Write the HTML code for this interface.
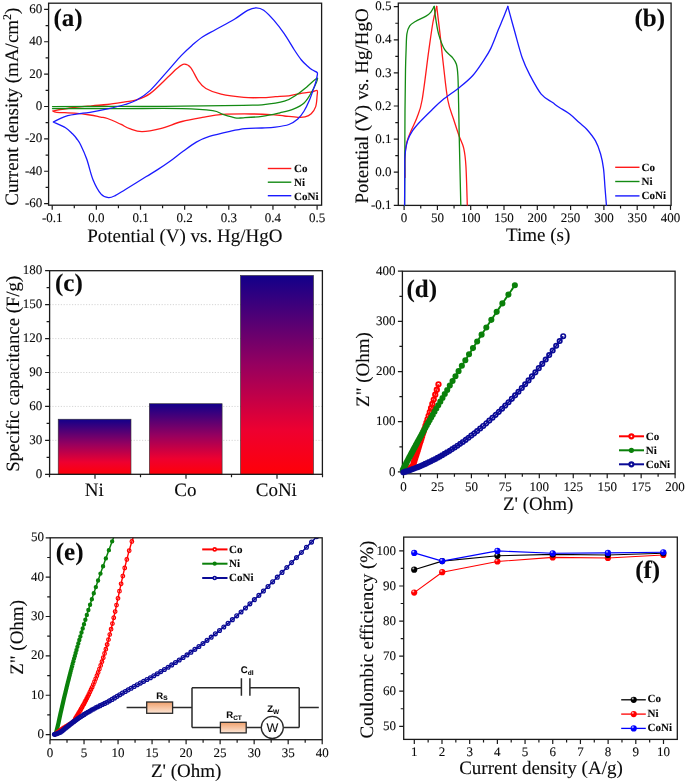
<!DOCTYPE html>
<html><head><meta charset="utf-8"><style>
html,body{margin:0;padding:0;background:#fff;}
svg{display:block;will-change:transform;}
text{font-family:"Liberation Serif", serif;fill:#0a0a0a;stroke:#0a0a0a;stroke-width:0.1px;text-rendering:geometricPrecision;}
</style></head><body>
<svg width="685" height="782" viewBox="0 0 685 782">
<rect width="685" height="782" fill="#fff"/>
<rect x="48.6" y="3.2" width="273.00" height="202.00" fill="none" stroke="#1a1a1a" stroke-width="1.3"/>
<path d="M52.20 205.20V209.70M96.35 205.20V209.70M140.50 205.20V209.70M184.65 205.20V209.70M228.80 205.20V209.70M272.95 205.20V209.70M317.10 205.20V209.70M74.28 205.20V208.20M118.43 205.20V208.20M162.58 205.20V208.20M206.73 205.20V208.20M250.88 205.20V208.20M295.03 205.20V208.20" stroke="#1a1a1a" stroke-width="1.2" fill="none"/>
<text x="52.20" y="221.5" font-size="13" text-anchor="middle">-0.1</text>
<text x="96.35" y="221.5" font-size="13" text-anchor="middle">0.0</text>
<text x="140.50" y="221.5" font-size="13" text-anchor="middle">0.1</text>
<text x="184.65" y="221.5" font-size="13" text-anchor="middle">0.2</text>
<text x="228.80" y="221.5" font-size="13" text-anchor="middle">0.3</text>
<text x="272.95" y="221.5" font-size="13" text-anchor="middle">0.4</text>
<text x="317.10" y="221.5" font-size="13" text-anchor="middle">0.5</text>
<path d="M48.60 203.60H44.10M48.60 171.23H44.10M48.60 138.87H44.10M48.60 106.50H44.10M48.60 74.13H44.10M48.60 41.77H44.10M48.60 9.40H44.10M48.60 187.42H45.60M48.60 155.05H45.60M48.60 122.68H45.60M48.60 90.32H45.60M48.60 57.95H45.60M48.60 25.58H45.60" stroke="#1a1a1a" stroke-width="1.2" fill="none"/>
<text x="42.3" y="207.20" font-size="13" text-anchor="end">-60</text>
<text x="42.3" y="174.83" font-size="13" text-anchor="end">-40</text>
<text x="42.3" y="142.47" font-size="13" text-anchor="end">-20</text>
<text x="42.3" y="110.10" font-size="13" text-anchor="end">0</text>
<text x="42.3" y="77.73" font-size="13" text-anchor="end">20</text>
<text x="42.3" y="45.37" font-size="13" text-anchor="end">40</text>
<text x="42.3" y="13.00" font-size="13" text-anchor="end">60</text>
<text x="87.2" y="242.3" font-size="19">Potential (V) vs. Hg/HgO</text>
<text transform="translate(18.3,106.6) rotate(-90)" font-size="19" text-anchor="middle">Current density (mA/cm<tspan dy="-7" font-size="12">2</tspan><tspan dy="7">)</tspan></text>
<text x="53.5" y="25.5" font-size="25" font-weight="bold">(a)</text>
<path d="M52.80 111.00C55.65 110.50 63.40 108.87 69.90 108.00C76.40 107.13 85.53 106.38 91.80 105.80C98.07 105.22 101.97 105.15 107.50 104.50C113.03 103.85 120.33 102.63 125.00 101.90C129.67 101.17 131.33 101.48 135.50 100.10C139.67 98.72 144.58 97.43 150.00 93.60C155.42 89.77 163.50 81.28 168.00 77.10C172.50 72.92 174.32 70.65 177.00 68.50C179.68 66.35 181.82 64.35 184.10 64.20C186.38 64.05 188.33 64.82 190.70 67.60C193.07 70.38 195.77 77.42 198.30 80.90C200.83 84.38 202.10 86.28 205.90 88.50C209.70 90.72 214.77 92.72 221.10 94.20C227.43 95.68 237.08 96.83 243.90 97.40C250.72 97.97 256.75 97.72 262.00 97.60C267.25 97.48 270.92 97.00 275.40 96.70C279.88 96.40 284.42 96.40 288.90 95.80C293.38 95.20 298.43 93.77 302.30 93.10C306.17 92.43 309.63 92.25 312.10 91.80C314.57 91.35 316.27 89.73 317.10 90.40C317.93 91.07 317.33 93.10 317.10 95.80C316.87 98.50 316.68 103.62 315.70 106.60C314.72 109.58 312.98 111.98 311.20 113.70C309.42 115.42 307.23 116.30 305.00 116.90C302.77 117.50 301.23 117.45 297.80 117.30C294.37 117.15 288.87 116.45 284.40 116.00C279.93 115.55 276.15 114.93 271.00 114.60C265.85 114.27 261.52 114.03 253.50 114.00C245.48 113.97 231.42 113.83 222.90 114.40C214.38 114.97 209.22 116.22 202.40 117.40C195.58 118.58 189.00 119.62 182.00 121.50C175.00 123.38 167.07 127.00 160.40 128.70C153.73 130.40 147.12 131.70 142.00 131.70C136.88 131.70 133.27 129.95 129.70 128.70C126.13 127.45 124.30 125.90 120.60 124.20C116.90 122.50 110.85 119.68 107.50 118.50C104.15 117.32 103.42 117.68 100.50 117.10C97.58 116.52 94.37 115.65 90.00 115.00C85.63 114.35 79.83 113.65 74.30 113.20C68.77 112.75 60.38 112.67 56.80 112.30C53.22 111.93 53.47 111.22 52.80 111.00" fill="none" stroke="#ff1a1a" stroke-width="1.3" stroke-linejoin="round" stroke-linecap="round" />
<path d="M52.50 106.60C63.75 106.57 98.42 106.47 120.00 106.40C141.58 106.33 161.45 106.38 182.00 106.20C202.55 106.02 229.97 105.53 243.30 105.30C256.63 105.07 255.15 105.48 262.00 104.80C268.85 104.12 278.43 103.00 284.40 101.20C290.37 99.40 294.07 96.38 297.80 94.00C301.53 91.62 303.52 89.53 306.80 86.90C310.08 84.27 316.62 77.47 317.50 78.20C318.38 78.93 314.33 87.17 312.10 91.30C309.87 95.43 307.23 100.02 304.10 103.00C300.97 105.98 297.33 107.57 293.30 109.20C289.27 110.83 285.12 111.60 279.90 112.80C274.68 114.00 268.10 115.57 262.00 116.40C255.90 117.23 247.78 117.57 243.30 117.80C238.82 118.03 238.50 118.37 235.10 117.80C231.70 117.23 226.63 115.58 222.90 114.40C219.17 113.22 219.52 111.67 212.70 110.70C205.88 109.73 197.45 108.95 182.00 108.60C166.55 108.25 141.58 108.60 120.00 108.60C98.42 108.60 63.75 108.60 52.50 108.60" fill="none" stroke="#138a13" stroke-width="1.3" stroke-linejoin="round" stroke-linecap="round" />
<path d="M53.30 122.00C55.33 121.05 60.55 117.77 65.50 116.30C70.45 114.83 78.92 113.85 83.00 113.20C87.08 112.55 85.92 113.12 90.00 112.40C94.08 111.68 101.67 110.22 107.50 108.90C113.33 107.58 120.18 105.93 125.00 104.50C129.82 103.07 132.23 102.62 136.40 100.30C140.57 97.98 144.73 95.55 150.00 90.60C155.27 85.65 162.80 76.43 168.00 70.60C173.20 64.77 177.17 59.83 181.20 55.60C185.23 51.37 188.67 48.30 192.20 45.20C195.73 42.10 198.53 39.58 202.40 37.00C206.27 34.42 210.07 32.67 215.40 29.70C220.73 26.73 229.03 22.43 234.40 19.20C239.77 15.97 243.97 12.20 247.60 10.30C251.23 8.40 253.52 7.82 256.20 7.80C258.88 7.78 260.73 8.10 263.70 10.20C266.67 12.30 270.58 16.48 274.00 20.40C277.42 24.32 280.80 28.77 284.20 33.70C287.60 38.63 291.53 45.62 294.40 50.00C297.27 54.38 299.33 57.43 301.40 60.00C303.47 62.57 305.02 63.77 306.80 65.40C308.58 67.03 310.38 68.62 312.10 69.80C313.82 70.98 316.27 71.45 317.10 72.50C317.93 73.55 317.33 74.45 317.10 76.10C316.87 77.75 316.38 80.02 315.70 82.40C315.02 84.78 314.05 87.42 313.00 90.40C311.95 93.38 310.88 96.87 309.40 100.30C307.92 103.73 306.03 107.87 304.10 111.00C302.17 114.13 300.33 116.85 297.80 119.10C295.27 121.35 292.63 123.17 288.90 124.50C285.17 125.83 279.88 126.52 275.40 127.10C270.92 127.68 267.07 127.75 262.00 128.00C256.93 128.25 250.33 128.05 245.00 128.60C239.67 129.15 235.93 130.00 230.00 131.30C224.07 132.60 215.02 134.60 209.40 136.40C203.78 138.20 200.68 139.62 196.30 142.10C191.92 144.58 187.48 148.10 183.10 151.30C178.72 154.50 174.18 158.28 170.00 161.30C165.82 164.32 162.02 166.82 158.00 169.40C153.98 171.98 151.33 173.45 145.90 176.80C140.47 180.15 130.52 186.37 125.40 189.50C120.28 192.63 118.02 194.25 115.20 195.60C112.38 196.95 110.85 197.85 108.50 197.60C106.15 197.35 103.68 197.08 101.10 194.10C98.52 191.12 95.38 185.50 93.00 179.70C90.62 173.90 88.85 165.08 86.80 159.30C84.75 153.52 82.35 148.38 80.70 145.00C79.05 141.62 78.27 140.87 76.90 139.00C75.53 137.13 74.40 135.68 72.50 133.80C70.60 131.92 68.70 129.67 65.50 127.70C62.30 125.73 55.33 122.95 53.30 122.00" fill="none" stroke="#1a1aff" stroke-width="1.3" stroke-linejoin="round" stroke-linecap="round" />
<line x1="267.8" y1="168.5" x2="291.3" y2="168.5" stroke="#ff1a1a" stroke-width="1.4"/>
<text x="294" y="172.30" font-size="11" font-weight="bold">Co</text>
<line x1="267.8" y1="182.2" x2="291.3" y2="182.2" stroke="#138a13" stroke-width="1.4"/>
<text x="294" y="186.00" font-size="11" font-weight="bold">Ni</text>
<line x1="267.8" y1="195.7" x2="291.3" y2="195.7" stroke="#1a1aff" stroke-width="1.4"/>
<text x="294" y="199.50" font-size="11" font-weight="bold">CoNi</text>
<rect x="398.3" y="3.1" width="272.80" height="202.30" fill="none" stroke="#1a1a1a" stroke-width="1.3"/>
<path d="M404.10 205.40V209.90M437.40 205.40V209.90M470.70 205.40V209.90M504.00 205.40V209.90M537.30 205.40V209.90M570.60 205.40V209.90M603.90 205.40V209.90M637.20 205.40V209.90M670.50 205.40V209.90M420.75 205.40V208.40M454.05 205.40V208.40M487.35 205.40V208.40M520.65 205.40V208.40M553.95 205.40V208.40M587.25 205.40V208.40M620.55 205.40V208.40M653.85 205.40V208.40" stroke="#1a1a1a" stroke-width="1.2" fill="none"/>
<text x="404.10" y="222" font-size="13" text-anchor="middle">0</text>
<text x="437.40" y="222" font-size="13" text-anchor="middle">50</text>
<text x="470.70" y="222" font-size="13" text-anchor="middle">100</text>
<text x="504.00" y="222" font-size="13" text-anchor="middle">150</text>
<text x="537.30" y="222" font-size="13" text-anchor="middle">200</text>
<text x="570.60" y="222" font-size="13" text-anchor="middle">250</text>
<text x="603.90" y="222" font-size="13" text-anchor="middle">300</text>
<text x="637.20" y="222" font-size="13" text-anchor="middle">350</text>
<text x="670.50" y="222" font-size="13" text-anchor="middle">400</text>
<path d="M398.30 205.30H393.80M398.30 172.20H393.80M398.30 139.10H393.80M398.30 106.00H393.80M398.30 72.90H393.80M398.30 39.80H393.80M398.30 6.70H393.80M398.30 188.75H395.30M398.30 155.65H395.30M398.30 122.55H395.30M398.30 89.45H395.30M398.30 56.35H395.30M398.30 23.25H395.30" stroke="#1a1a1a" stroke-width="1.2" fill="none"/>
<text x="391.5" y="208.90" font-size="13" text-anchor="end">-0.1</text>
<text x="391.5" y="175.80" font-size="13" text-anchor="end">0.0</text>
<text x="391.5" y="142.70" font-size="13" text-anchor="end">0.1</text>
<text x="391.5" y="109.60" font-size="13" text-anchor="end">0.2</text>
<text x="391.5" y="76.50" font-size="13" text-anchor="end">0.3</text>
<text x="391.5" y="43.40" font-size="13" text-anchor="end">0.4</text>
<text x="391.5" y="10.30" font-size="13" text-anchor="end">0.5</text>
<text x="506" y="241.3" font-size="19">Time (s)</text>
<text transform="translate(368.2,105.9) rotate(-90)" font-size="19" text-anchor="middle">Potential (V) vs. Hg/HgO</text>
<text x="634.5" y="26" font-size="25" font-weight="bold">(b)</text>
<path d="M405.00 177.40C405.00 173.75 404.70 161.35 405.00 155.50C405.30 149.65 405.78 146.43 406.80 142.30C407.82 138.17 409.40 134.83 411.10 130.70C412.80 126.57 415.17 122.62 417.00 117.50C418.83 112.38 420.15 111.05 422.10 100.00C424.05 88.95 426.88 64.20 428.70 51.20C430.52 38.20 431.67 29.47 433.00 22.00C434.33 14.53 436.08 9.00 436.70 6.40" fill="none" stroke="#ff1a1a" stroke-width="1.3" stroke-linejoin="round" stroke-linecap="round" />
<path d="M436.70 6.40C437.22 10.70 438.67 22.30 439.80 32.20C440.93 42.10 442.17 54.50 443.50 65.80C444.83 77.10 446.13 91.13 447.80 100.00C449.47 108.87 451.58 112.92 453.50 119.00C455.42 125.08 457.60 131.63 459.30 136.50C461.00 141.37 462.60 143.33 463.70 148.20C464.80 153.07 465.30 156.23 465.90 165.70C466.50 175.17 467.07 198.45 467.30 205.00" fill="none" stroke="#ff1a1a" stroke-width="1.3" stroke-linejoin="round" stroke-linecap="round" />
<path d="M404.60 205.00C404.63 197.50 404.73 175.83 404.80 160.00C404.87 144.17 404.88 125.00 405.00 110.00C405.12 95.00 405.32 80.00 405.50 70.00C405.68 60.00 405.87 56.03 406.10 50.00C406.33 43.97 406.30 37.83 406.90 33.80C407.50 29.77 408.28 27.85 409.70 25.80C411.12 23.75 412.75 23.07 415.40 21.50C418.05 19.93 423.05 17.93 425.60 16.40C428.15 14.87 429.27 13.97 430.70 12.30C432.13 10.63 433.62 7.38 434.20 6.40" fill="none" stroke="#138a13" stroke-width="1.3" stroke-linejoin="round" stroke-linecap="round" />
<path d="M434.20 6.40C434.50 8.75 435.22 15.72 436.00 20.50C436.78 25.28 437.45 30.23 438.90 35.10C440.35 39.97 442.52 46.05 444.70 49.70C446.88 53.35 450.05 54.57 452.00 57.00C453.95 59.43 455.42 61.13 456.40 64.30C457.38 67.47 457.53 69.55 457.90 76.00C458.27 82.45 458.37 92.33 458.60 103.00C458.83 113.67 458.93 123.00 459.30 140.00C459.67 157.00 460.55 194.17 460.80 205.00" fill="none" stroke="#138a13" stroke-width="1.3" stroke-linejoin="round" stroke-linecap="round" />
<path d="M404.60 205.00C404.63 199.17 404.73 178.25 404.80 170.00C404.87 161.75 404.55 160.35 405.00 155.50C405.45 150.65 406.23 145.03 407.50 140.90C408.77 136.77 410.53 133.87 412.60 130.70C414.67 127.53 416.73 125.32 419.90 121.90C423.07 118.48 427.83 113.85 431.60 110.20C435.37 106.55 437.77 103.87 442.50 100.00C447.23 96.13 454.95 91.08 460.00 87.00C465.05 82.92 468.97 79.77 472.80 75.50C476.63 71.23 480.02 65.88 483.00 61.40C485.98 56.92 488.13 53.90 490.70 48.60C493.27 43.30 496.35 34.60 498.40 29.60C500.45 24.60 501.43 22.47 503.00 18.60C504.57 14.73 507.00 8.43 507.80 6.40" fill="none" stroke="#1a1aff" stroke-width="1.3" stroke-linejoin="round" stroke-linecap="round" />
<path d="M507.80 6.40C508.95 10.58 512.28 22.90 514.70 31.50C517.12 40.10 519.77 50.73 522.30 58.00C524.83 65.27 526.75 69.08 529.90 75.10C533.05 81.12 537.42 89.52 541.20 94.10C544.98 98.68 549.63 100.40 552.60 102.60C555.57 104.80 556.15 105.40 559.00 107.30C561.85 109.20 566.33 111.45 569.70 114.00C573.07 116.55 576.37 120.07 579.20 122.60C582.03 125.13 583.98 126.15 586.70 129.20C589.42 132.25 593.18 136.77 595.50 140.90C597.82 145.03 599.27 149.38 600.60 154.00C601.93 158.62 602.77 163.00 603.50 168.60C604.23 174.20 604.52 181.53 605.00 187.60C605.48 193.67 606.17 202.10 606.40 205.00" fill="none" stroke="#1a1aff" stroke-width="1.3" stroke-linejoin="round" stroke-linecap="round" />
<line x1="615.2" y1="167.3" x2="639.5" y2="167.3" stroke="#ff1a1a" stroke-width="1.4"/>
<text x="641.5" y="170.80" font-size="11" font-weight="bold">Co</text>
<line x1="615.2" y1="181.5" x2="639.5" y2="181.5" stroke="#138a13" stroke-width="1.4"/>
<text x="641.5" y="185.00" font-size="11" font-weight="bold">Ni</text>
<line x1="615.2" y1="195.9" x2="639.5" y2="195.9" stroke="#1a1aff" stroke-width="1.4"/>
<text x="641.5" y="199.40" font-size="11" font-weight="bold">CoNi</text>
<line x1="49.6" y1="440.37" x2="322.4" y2="440.37" stroke="#cccccc" stroke-width="0.8" stroke-dasharray="1.2 1.6"/>
<line x1="49.6" y1="406.43" x2="322.4" y2="406.43" stroke="#cccccc" stroke-width="0.8" stroke-dasharray="1.2 1.6"/>
<line x1="49.6" y1="372.50" x2="322.4" y2="372.50" stroke="#cccccc" stroke-width="0.8" stroke-dasharray="1.2 1.6"/>
<line x1="49.6" y1="338.57" x2="322.4" y2="338.57" stroke="#cccccc" stroke-width="0.8" stroke-dasharray="1.2 1.6"/>
<line x1="49.6" y1="304.63" x2="322.4" y2="304.63" stroke="#cccccc" stroke-width="0.8" stroke-dasharray="1.2 1.6"/>
<defs><linearGradient id="gb" x1="0" y1="0" x2="0" y2="1"><stop offset="0" stop-color="#12008a"/><stop offset="0.45" stop-color="#96005f"/><stop offset="0.78" stop-color="#ee0030"/><stop offset="1" stop-color="#ff0008"/></linearGradient></defs>
<rect x="58.2" y="419.21" width="72.80" height="55.09" fill="url(#gb)" stroke="#333" stroke-width="0.6"/>
<rect x="149.3" y="403.72" width="72.80" height="70.58" fill="url(#gb)" stroke="#333" stroke-width="0.6"/>
<rect x="240.5" y="275.45" width="73.00" height="198.85" fill="url(#gb)" stroke="#333" stroke-width="0.6"/>
<rect x="49.6" y="270.7" width="272.80" height="203.60" fill="none" stroke="#1a1a1a" stroke-width="1.3"/>
<path d="M95.00 474.3V478.8M186.00 474.3V478.8M277.00 474.3V478.8M49.50 474.3V477.3M140.50 474.3V477.3M231.50 474.3V477.3M322.50 474.3V477.3" stroke="#1a1a1a" stroke-width="1.2"/>
<text x="94.30" y="495.5" font-size="19" text-anchor="middle">Ni</text>
<text x="185.30" y="495.5" font-size="19" text-anchor="middle">Co</text>
<text x="276.30" y="495.5" font-size="19" text-anchor="middle">CoNi</text>
<path d="M49.60 474.30H45.10M49.60 440.37H45.10M49.60 406.43H45.10M49.60 372.50H45.10M49.60 338.57H45.10M49.60 304.63H45.10M49.60 270.70H45.10M49.60 457.33H46.60M49.60 423.40H46.60M49.60 389.47H46.60M49.60 355.53H46.60M49.60 321.60H46.60M49.60 287.67H46.60" stroke="#1a1a1a" stroke-width="1.2" fill="none"/>
<text x="42.3" y="477.90" font-size="13" text-anchor="end">0</text>
<text x="42.3" y="443.97" font-size="13" text-anchor="end">30</text>
<text x="42.3" y="410.03" font-size="13" text-anchor="end">60</text>
<text x="42.3" y="376.10" font-size="13" text-anchor="end">90</text>
<text x="42.3" y="342.17" font-size="13" text-anchor="end">120</text>
<text x="42.3" y="308.23" font-size="13" text-anchor="end">150</text>
<text x="42.3" y="274.30" font-size="13" text-anchor="end">180</text>
<text transform="translate(18.6,373.8) rotate(-90)" font-size="18.8" text-anchor="middle">Specific capacitance (F/g)</text>
<text x="55" y="291.2" font-size="25" font-weight="bold">(c)</text>
<rect x="402.4" y="271.2" width="272.70" height="202.60" fill="none" stroke="#1a1a1a" stroke-width="1.3"/>
<path d="M403.50 473.80V478.30M437.45 473.80V478.30M471.40 473.80V478.30M505.35 473.80V478.30M539.30 473.80V478.30M573.25 473.80V478.30M607.20 473.80V478.30M641.15 473.80V478.30M675.10 473.80V478.30M420.48 473.80V476.80M454.43 473.80V476.80M488.38 473.80V476.80M522.33 473.80V476.80M556.27 473.80V476.80M590.23 473.80V476.80M624.17 473.80V476.80M658.12 473.80V476.80" stroke="#1a1a1a" stroke-width="1.2" fill="none"/>
<text x="403.50" y="490.5" font-size="13" text-anchor="middle">0</text>
<text x="437.45" y="490.5" font-size="13" text-anchor="middle">25</text>
<text x="471.40" y="490.5" font-size="13" text-anchor="middle">50</text>
<text x="505.35" y="490.5" font-size="13" text-anchor="middle">75</text>
<text x="539.30" y="490.5" font-size="13" text-anchor="middle">100</text>
<text x="573.25" y="490.5" font-size="13" text-anchor="middle">125</text>
<text x="607.20" y="490.5" font-size="13" text-anchor="middle">150</text>
<text x="641.15" y="490.5" font-size="13" text-anchor="middle">175</text>
<text x="675.10" y="490.5" font-size="13" text-anchor="middle">200</text>
<path d="M402.40 471.90H397.90M402.40 421.72H397.90M402.40 371.55H397.90M402.40 321.38H397.90M402.40 271.20H397.90M402.40 446.81H399.40M402.40 396.64H399.40M402.40 346.46H399.40M402.40 296.29H399.40" stroke="#1a1a1a" stroke-width="1.2" fill="none"/>
<text x="395.5" y="475.50" font-size="13" text-anchor="end">0</text>
<text x="395.5" y="425.32" font-size="13" text-anchor="end">100</text>
<text x="395.5" y="375.15" font-size="13" text-anchor="end">200</text>
<text x="395.5" y="324.98" font-size="13" text-anchor="end">300</text>
<text x="395.5" y="274.80" font-size="13" text-anchor="end">400</text>
<text x="503" y="509.7" font-size="19">Z' (Ohm)</text>
<text transform="translate(369,369.5) rotate(-90)" font-size="19" text-anchor="middle">Z" (Ohm)</text>
<text x="406.5" y="296.6" font-size="25" font-weight="bold">(d)</text>
<path d="M403.50 471.50 L403.99 471.30 L404.66 471.04 L405.46 470.72 L406.32 470.35 L407.19 469.94 L408.00 469.50 L408.82 468.99 L409.69 468.42 L410.58 467.80 L411.41 467.16 L412.14 466.56 L412.70 466.00 L413.07 465.50 L413.27 465.03 L413.38 464.59 L413.42 464.16 L413.47 463.72 L413.57 463.28 L413.72 462.82 L413.86 462.37 L414.01 461.91 L414.15 461.46 L414.30 461.01 L414.44 460.55 L414.58 460.10 L414.73 459.65 L414.87 459.19 L415.02 458.74 L415.16 458.28 L415.31 457.83 L415.45 457.38 L415.60 456.92 L415.74 456.47 L415.89 456.01 L416.03 455.56 L416.18 455.11 L416.32 454.65 L416.46 454.20 L416.61 453.75 L416.75 453.29 L416.90 452.84 L417.04 452.38 L417.19 451.93 L417.33 451.48 L417.48 451.02 L417.62 450.57 L417.76 450.11 L417.91 449.66 L418.05 449.21 L418.20 448.75 L418.34 448.30 L418.49 447.84 L418.63 447.39 L418.77 446.94 L418.92 446.48 L419.06 446.03 L419.21 445.57 L419.35 445.12 L419.50 444.67 L419.64 444.21 L419.78 443.76 L419.93 443.31 L420.07 442.85 L420.22 442.40 L420.36 441.94 L420.50 441.49 L420.65 441.04 L420.79 440.58 L420.93 440.13 L421.08 439.67 L421.22 439.22 L421.37 438.77 L421.51 438.31 L421.65 437.86 L421.80 437.41 L421.94 436.95 L422.09 436.50 L422.23 436.04 L422.37 435.59 L422.52 435.14 L422.66 434.68 L422.80 434.23 L422.95 433.77 L423.09 433.32 L423.23 432.87 L423.38 432.41 L423.52 431.96 L423.67 431.50 L423.81 431.05 L423.95 430.60 L424.10 430.14 L424.24 429.69 L424.38 429.23 L424.53 428.78 L424.67 428.33 L424.81 427.87 L424.96 427.42 L425.10 426.97 L425.24 426.51 L425.39 426.06 L425.53 425.60 L425.67 425.15 L425.82 424.70 L425.96 424.24 L426.10 423.79 L426.25 423.33 L426.39 422.88 L426.53 422.43 L426.67 421.97 L426.82 421.52 L426.96 421.06 L427.10 420.61 L427.25 420.16 L427.39 419.70 L427.53 419.25 L427.68 418.80 L427.82 418.34 L427.96 417.89 L428.10 417.43 L428.25 416.98 L428.39 416.53 L428.53 416.07 L428.68 415.62 L428.82 415.16 L428.96 414.71 L429.10 414.26 L429.25 413.80 L429.39 413.35 L429.53 412.89 L429.68 412.44 L429.82 411.99 L429.96 411.53 L430.10 411.08 L430.25 410.63 L430.39 410.17 L430.53 409.72 L430.67 409.26 L430.82 408.81 L430.96 408.36 L431.10 407.90 L431.24 407.45 L431.39 406.99 L431.53 406.54 L431.67 406.09 L431.81 405.63 L431.96 405.18 L432.10 404.73 L432.24 404.27 L432.38 403.82 L432.53 403.36 L432.67 402.91 L432.81 402.46 L432.95 402.00 L433.09 401.55 L433.24 401.09 L433.38 400.64 L433.52 400.19 L433.66 399.73 L433.81 399.28 L433.95 398.82 L434.09 398.37 L434.23 397.92 L434.37 397.46 L434.52 397.01 L434.66 396.55 L434.80 396.10 L434.94 395.65 L435.08 395.19 L435.23 394.74 L435.37 394.29 L435.51 393.83 L435.65 393.38 L435.79 392.92 L435.93 392.47 L436.08 392.02 L436.22 391.56 L436.36 391.11 L436.50 390.65 L436.64 390.20 L436.79 389.75 L436.93 389.29 L437.07 388.84 L437.21 388.38 L437.35 387.93 L437.49 387.48 L437.64 387.02 L437.79 386.54 L437.95 386.01 L438.11 385.49 L438.26 385.01 L438.39 384.60 L438.48 384.30" fill="none" stroke="#ff0000" stroke-width="1.6" stroke-linejoin="round" />
<path d="M436.28 384.30a2.2 2.2 0 1 0 4.4 0a2.2 2.2 0 1 0 -4.4 0M434.62 389.65a2.2 2.2 0 1 0 4.4 0a2.2 2.2 0 1 0 -4.4 0M433.04 394.68a2.2 2.2 0 1 0 4.4 0a2.2 2.2 0 1 0 -4.4 0M431.56 399.42a2.2 2.2 0 1 0 4.4 0a2.2 2.2 0 1 0 -4.4 0M430.16 403.89a2.2 2.2 0 1 0 4.4 0a2.2 2.2 0 1 0 -4.4 0M428.84 408.10a2.2 2.2 0 1 0 4.4 0a2.2 2.2 0 1 0 -4.4 0M427.60 412.06a2.2 2.2 0 1 0 4.4 0a2.2 2.2 0 1 0 -4.4 0M426.42 415.79a2.2 2.2 0 1 0 4.4 0a2.2 2.2 0 1 0 -4.4 0M425.31 419.31a2.2 2.2 0 1 0 4.4 0a2.2 2.2 0 1 0 -4.4 0M424.27 422.62a2.2 2.2 0 1 0 4.4 0a2.2 2.2 0 1 0 -4.4 0M423.29 425.74a2.2 2.2 0 1 0 4.4 0a2.2 2.2 0 1 0 -4.4 0M422.36 428.68a2.2 2.2 0 1 0 4.4 0a2.2 2.2 0 1 0 -4.4 0M421.48 431.44a2.2 2.2 0 1 0 4.4 0a2.2 2.2 0 1 0 -4.4 0M420.66 434.05a2.2 2.2 0 1 0 4.4 0a2.2 2.2 0 1 0 -4.4 0M419.88 436.50a2.2 2.2 0 1 0 4.4 0a2.2 2.2 0 1 0 -4.4 0M419.15 438.82a2.2 2.2 0 1 0 4.4 0a2.2 2.2 0 1 0 -4.4 0M418.46 440.99a2.2 2.2 0 1 0 4.4 0a2.2 2.2 0 1 0 -4.4 0M417.81 443.05a2.2 2.2 0 1 0 4.4 0a2.2 2.2 0 1 0 -4.4 0M417.20 444.98a2.2 2.2 0 1 0 4.4 0a2.2 2.2 0 1 0 -4.4 0M416.62 446.80a2.2 2.2 0 1 0 4.4 0a2.2 2.2 0 1 0 -4.4 0M416.07 448.51a2.2 2.2 0 1 0 4.4 0a2.2 2.2 0 1 0 -4.4 0M415.56 450.13a2.2 2.2 0 1 0 4.4 0a2.2 2.2 0 1 0 -4.4 0M415.08 451.65a2.2 2.2 0 1 0 4.4 0a2.2 2.2 0 1 0 -4.4 0M414.62 453.08a2.2 2.2 0 1 0 4.4 0a2.2 2.2 0 1 0 -4.4 0M414.19 454.43a2.2 2.2 0 1 0 4.4 0a2.2 2.2 0 1 0 -4.4 0M413.79 455.70a2.2 2.2 0 1 0 4.4 0a2.2 2.2 0 1 0 -4.4 0M413.40 456.90a2.2 2.2 0 1 0 4.4 0a2.2 2.2 0 1 0 -4.4 0M413.04 458.03a2.2 2.2 0 1 0 4.4 0a2.2 2.2 0 1 0 -4.4 0M412.71 459.09a2.2 2.2 0 1 0 4.4 0a2.2 2.2 0 1 0 -4.4 0M412.39 460.09a2.2 2.2 0 1 0 4.4 0a2.2 2.2 0 1 0 -4.4 0M412.09 461.04a2.2 2.2 0 1 0 4.4 0a2.2 2.2 0 1 0 -4.4 0M411.80 461.93a2.2 2.2 0 1 0 4.4 0a2.2 2.2 0 1 0 -4.4 0M411.54 462.76a2.2 2.2 0 1 0 4.4 0a2.2 2.2 0 1 0 -4.4 0M411.31 463.56a2.2 2.2 0 1 0 4.4 0a2.2 2.2 0 1 0 -4.4 0M411.20 464.33a2.2 2.2 0 1 0 4.4 0a2.2 2.2 0 1 0 -4.4 0M411.07 465.05a2.2 2.2 0 1 0 4.4 0a2.2 2.2 0 1 0 -4.4 0M410.75 465.66a2.2 2.2 0 1 0 4.4 0a2.2 2.2 0 1 0 -4.4 0M410.34 466.16a2.2 2.2 0 1 0 4.4 0a2.2 2.2 0 1 0 -4.4 0M409.90 466.59a2.2 2.2 0 1 0 4.4 0a2.2 2.2 0 1 0 -4.4 0M409.44 466.97a2.2 2.2 0 1 0 4.4 0a2.2 2.2 0 1 0 -4.4 0M408.97 467.35a2.2 2.2 0 1 0 4.4 0a2.2 2.2 0 1 0 -4.4 0M408.49 467.71a2.2 2.2 0 1 0 4.4 0a2.2 2.2 0 1 0 -4.4 0M408.00 468.06a2.2 2.2 0 1 0 4.4 0a2.2 2.2 0 1 0 -4.4 0M407.51 468.40a2.2 2.2 0 1 0 4.4 0a2.2 2.2 0 1 0 -4.4 0M407.01 468.73a2.2 2.2 0 1 0 4.4 0a2.2 2.2 0 1 0 -4.4 0M406.51 469.06a2.2 2.2 0 1 0 4.4 0a2.2 2.2 0 1 0 -4.4 0M406.00 469.38a2.2 2.2 0 1 0 4.4 0a2.2 2.2 0 1 0 -4.4 0M405.48 469.67a2.2 2.2 0 1 0 4.4 0a2.2 2.2 0 1 0 -4.4 0M404.95 469.96a2.2 2.2 0 1 0 4.4 0a2.2 2.2 0 1 0 -4.4 0M404.41 470.22a2.2 2.2 0 1 0 4.4 0a2.2 2.2 0 1 0 -4.4 0M403.86 470.46a2.2 2.2 0 1 0 4.4 0a2.2 2.2 0 1 0 -4.4 0M403.31 470.70a2.2 2.2 0 1 0 4.4 0a2.2 2.2 0 1 0 -4.4 0M402.75 470.92a2.2 2.2 0 1 0 4.4 0a2.2 2.2 0 1 0 -4.4 0M401.30 471.50a2.2 2.2 0 1 0 4.4 0a2.2 2.2 0 1 0 -4.4 0" fill="none" stroke="#ff0000" stroke-width="1.9"/>
<path d="M402.77 470.00 L402.94 469.67 L403.18 469.20 L403.46 468.65 L403.77 468.06 L404.07 467.47 L404.36 466.92 L404.62 466.41 L404.89 465.90 L405.16 465.38 L405.42 464.87 L405.69 464.36 L405.96 463.84 L406.23 463.33 L406.49 462.82 L406.76 462.30 L407.03 461.79 L407.30 461.28 L407.57 460.76 L407.84 460.25 L408.11 459.74 L408.38 459.23 L408.65 458.71 L408.92 458.20 L409.19 457.69 L409.46 457.17 L409.73 456.66 L410.00 456.15 L410.28 455.63 L410.55 455.12 L410.82 454.61 L411.09 454.10 L411.36 453.58 L411.64 453.07 L411.91 452.56 L412.18 452.04 L412.46 451.53 L412.73 451.02 L413.01 450.50 L413.28 449.99 L413.56 449.48 L413.83 448.96 L414.11 448.45 L414.38 447.94 L414.66 447.43 L414.93 446.91 L415.21 446.40 L415.49 445.89 L415.76 445.37 L416.04 444.86 L416.32 444.35 L416.60 443.83 L416.87 443.32 L417.15 442.81 L417.43 442.30 L417.71 441.78 L417.99 441.27 L418.27 440.76 L418.55 440.24 L418.83 439.73 L419.11 439.22 L419.39 438.70 L419.67 438.19 L419.95 437.68 L420.23 437.16 L420.51 436.65 L420.79 436.14 L421.08 435.63 L421.36 435.11 L421.64 434.60 L421.92 434.09 L422.21 433.57 L422.49 433.06 L422.77 432.55 L423.06 432.03 L423.34 431.52 L423.62 431.01 L423.91 430.49 L424.19 429.98 L424.48 429.47 L424.76 428.96 L425.05 428.44 L425.33 427.93 L425.62 427.42 L425.91 426.90 L426.19 426.39 L426.48 425.88 L426.77 425.36 L427.05 424.85 L427.34 424.34 L427.63 423.82 L427.92 423.31 L428.21 422.80 L428.49 422.29 L428.78 421.77 L429.07 421.26 L429.36 420.75 L429.65 420.23 L429.94 419.72 L430.23 419.21 L430.52 418.69 L430.81 418.18 L431.10 417.67 L431.40 417.16 L431.69 416.64 L431.98 416.13 L432.27 415.62 L432.56 415.10 L432.86 414.59 L433.15 414.08 L433.44 413.56 L433.73 413.05 L434.03 412.54 L434.32 412.02 L434.62 411.51 L434.91 411.00 L435.21 410.49 L435.50 409.97 L435.80 409.46 L436.09 408.95 L436.39 408.43 L436.68 407.92 L436.98 407.41 L437.27 406.89 L437.57 406.38 L437.87 405.87 L438.17 405.36 L438.46 404.84 L438.76 404.33 L439.06 403.82 L439.36 403.30 L439.66 402.79 L439.95 402.28 L440.25 401.76 L440.55 401.25 L440.85 400.74 L441.15 400.22 L441.45 399.71 L441.75 399.20 L442.05 398.69 L442.35 398.17 L442.66 397.66 L442.96 397.15 L443.26 396.63 L443.56 396.12 L443.86 395.61 L444.16 395.09 L444.47 394.58 L444.77 394.07 L445.07 393.55 L445.38 393.04 L445.68 392.53 L445.98 392.02 L446.29 391.50 L446.59 390.99 L446.90 390.48 L447.20 389.96 L447.51 389.45 L447.81 388.94 L448.12 388.42 L448.43 387.91 L448.73 387.40 L449.04 386.88 L449.35 386.37 L449.65 385.86 L449.96 385.35 L450.27 384.83 L450.58 384.32 L450.88 383.81 L451.19 383.29 L451.50 382.78 L451.81 382.27 L452.12 381.75 L452.43 381.24 L452.74 380.73 L453.05 380.22 L453.36 379.70 L453.67 379.19 L453.98 378.68 L454.29 378.16 L454.60 377.65 L454.91 377.14 L455.22 376.62 L455.54 376.11 L455.85 375.60 L456.16 375.08 L456.47 374.57 L456.79 374.06 L457.10 373.55 L457.41 373.03 L457.73 372.52 L458.04 372.01 L458.36 371.49 L458.67 370.98 L458.99 370.47 L459.30 369.95 L459.62 369.44 L459.93 368.93 L460.25 368.42 L460.56 367.90 L460.88 367.39 L461.20 366.88 L461.52 366.36 L461.83 365.85 L462.15 365.34 L462.47 364.82 L462.79 364.31 L463.10 363.80 L463.42 363.28 L463.74 362.77 L464.06 362.26 L464.38 361.75 L464.70 361.23 L465.02 360.72 L465.34 360.21 L465.66 359.69 L465.98 359.18 L466.30 358.67 L466.62 358.15 L466.94 357.64 L467.27 357.13 L467.59 356.61 L467.91 356.10 L468.23 355.59 L468.55 355.08 L468.88 354.56 L469.20 354.05 L469.52 353.54 L469.85 353.02 L470.17 352.51 L470.50 352.00 L470.82 351.48 L471.15 350.97 L471.47 350.46 L471.80 349.94 L472.12 349.43 L472.45 348.92 L472.77 348.41 L473.10 347.89 L473.43 347.38 L473.75 346.87 L474.08 346.35 L474.41 345.84 L474.74 345.33 L475.06 344.81 L475.39 344.30 L475.72 343.79 L476.05 343.28 L476.38 342.76 L476.71 342.25 L477.04 341.74 L477.37 341.22 L477.70 340.71 L478.03 340.20 L478.36 339.68 L478.69 339.17 L479.02 338.66 L479.35 338.14 L479.68 337.63 L480.01 337.12 L480.35 336.61 L480.68 336.09 L481.01 335.58 L481.34 335.07 L481.68 334.55 L482.01 334.04 L482.34 333.53 L482.68 333.01 L483.01 332.50 L483.35 331.99 L483.68 331.48 L484.02 330.96 L484.35 330.45 L484.69 329.94 L485.02 329.42 L485.36 328.91 L485.69 328.40 L486.03 327.88 L486.37 327.37 L486.70 326.86 L487.04 326.34 L487.38 325.83 L487.72 325.32 L488.06 324.81 L488.39 324.29 L488.73 323.78 L489.07 323.27 L489.41 322.75 L489.75 322.24 L490.09 321.73 L490.43 321.21 L490.77 320.70 L491.11 320.19 L491.45 319.67 L491.79 319.16 L492.13 318.65 L492.47 318.14 L492.82 317.62 L493.16 317.11 L493.50 316.60 L493.84 316.08 L494.18 315.57 L494.53 315.06 L494.87 314.54 L495.21 314.03 L495.56 313.52 L495.90 313.00 L496.25 312.49 L496.59 311.98 L496.94 311.47 L497.28 310.95 L497.63 310.44 L497.97 309.93 L498.32 309.41 L498.66 308.90 L499.01 308.39 L499.36 307.87 L499.70 307.36 L500.05 306.85 L500.40 306.34 L500.75 305.82 L501.09 305.31 L501.44 304.80 L501.79 304.28 L502.14 303.77 L502.49 303.26 L502.84 302.74 L503.19 302.23 L503.54 301.72 L503.89 301.20 L504.24 300.69 L504.59 300.18 L504.94 299.67 L505.29 299.15 L505.64 298.64 L505.99 298.13 L506.34 297.61 L506.70 297.10 L507.05 296.59 L507.40 296.07 L507.75 295.56 L508.11 295.05 L508.46 294.53 L508.81 294.02 L509.17 293.51 L509.52 293.00 L509.88 292.48 L510.23 291.97 L510.59 291.46 L510.94 290.94 L511.30 290.43 L511.65 289.92 L512.01 289.40 L512.37 288.89 L512.72 288.38 L513.10 287.83 L513.52 287.24 L513.93 286.65 L514.31 286.10 L514.63 285.63 L514.87 285.30" fill="none" stroke="#0a800a" stroke-width="1.9" stroke-linejoin="round" />
<path d="M511.82 285.30a3.05 3.05 0 1 0 6.1 0a3.05 3.05 0 1 0 -6.1 0M505.38 294.59a3.05 3.05 0 1 0 6.1 0a3.05 3.05 0 1 0 -6.1 0M499.33 303.42a3.05 3.05 0 1 0 6.1 0a3.05 3.05 0 1 0 -6.1 0M493.64 311.83a3.05 3.05 0 1 0 6.1 0a3.05 3.05 0 1 0 -6.1 0M488.30 319.83a3.05 3.05 0 1 0 6.1 0a3.05 3.05 0 1 0 -6.1 0M483.27 327.44a3.05 3.05 0 1 0 6.1 0a3.05 3.05 0 1 0 -6.1 0M478.55 334.67a3.05 3.05 0 1 0 6.1 0a3.05 3.05 0 1 0 -6.1 0M474.11 341.55a3.05 3.05 0 1 0 6.1 0a3.05 3.05 0 1 0 -6.1 0M469.93 348.09a3.05 3.05 0 1 0 6.1 0a3.05 3.05 0 1 0 -6.1 0M465.99 354.30a3.05 3.05 0 1 0 6.1 0a3.05 3.05 0 1 0 -6.1 0M462.29 360.21a3.05 3.05 0 1 0 6.1 0a3.05 3.05 0 1 0 -6.1 0M458.80 365.82a3.05 3.05 0 1 0 6.1 0a3.05 3.05 0 1 0 -6.1 0M455.52 371.15a3.05 3.05 0 1 0 6.1 0a3.05 3.05 0 1 0 -6.1 0M452.42 376.21a3.05 3.05 0 1 0 6.1 0a3.05 3.05 0 1 0 -6.1 0M449.51 381.02a3.05 3.05 0 1 0 6.1 0a3.05 3.05 0 1 0 -6.1 0M446.76 385.59a3.05 3.05 0 1 0 6.1 0a3.05 3.05 0 1 0 -6.1 0M444.17 389.93a3.05 3.05 0 1 0 6.1 0a3.05 3.05 0 1 0 -6.1 0M441.73 394.05a3.05 3.05 0 1 0 6.1 0a3.05 3.05 0 1 0 -6.1 0M439.43 397.95a3.05 3.05 0 1 0 6.1 0a3.05 3.05 0 1 0 -6.1 0M437.26 401.67a3.05 3.05 0 1 0 6.1 0a3.05 3.05 0 1 0 -6.1 0M435.21 405.19a3.05 3.05 0 1 0 6.1 0a3.05 3.05 0 1 0 -6.1 0M433.28 408.53a3.05 3.05 0 1 0 6.1 0a3.05 3.05 0 1 0 -6.1 0M431.45 411.71a3.05 3.05 0 1 0 6.1 0a3.05 3.05 0 1 0 -6.1 0M429.73 414.72a3.05 3.05 0 1 0 6.1 0a3.05 3.05 0 1 0 -6.1 0M428.11 417.58a3.05 3.05 0 1 0 6.1 0a3.05 3.05 0 1 0 -6.1 0M426.57 420.29a3.05 3.05 0 1 0 6.1 0a3.05 3.05 0 1 0 -6.1 0M425.12 422.86a3.05 3.05 0 1 0 6.1 0a3.05 3.05 0 1 0 -6.1 0M423.75 425.30a3.05 3.05 0 1 0 6.1 0a3.05 3.05 0 1 0 -6.1 0M422.46 427.62a3.05 3.05 0 1 0 6.1 0a3.05 3.05 0 1 0 -6.1 0M421.24 429.81a3.05 3.05 0 1 0 6.1 0a3.05 3.05 0 1 0 -6.1 0M420.08 431.90a3.05 3.05 0 1 0 6.1 0a3.05 3.05 0 1 0 -6.1 0M418.99 433.87a3.05 3.05 0 1 0 6.1 0a3.05 3.05 0 1 0 -6.1 0M417.96 435.75a3.05 3.05 0 1 0 6.1 0a3.05 3.05 0 1 0 -6.1 0M416.98 437.53a3.05 3.05 0 1 0 6.1 0a3.05 3.05 0 1 0 -6.1 0M416.06 439.21a3.05 3.05 0 1 0 6.1 0a3.05 3.05 0 1 0 -6.1 0M415.19 440.81a3.05 3.05 0 1 0 6.1 0a3.05 3.05 0 1 0 -6.1 0M414.36 442.33a3.05 3.05 0 1 0 6.1 0a3.05 3.05 0 1 0 -6.1 0M413.58 443.77a3.05 3.05 0 1 0 6.1 0a3.05 3.05 0 1 0 -6.1 0M412.84 445.13a3.05 3.05 0 1 0 6.1 0a3.05 3.05 0 1 0 -6.1 0M412.15 446.43a3.05 3.05 0 1 0 6.1 0a3.05 3.05 0 1 0 -6.1 0M411.49 447.65a3.05 3.05 0 1 0 6.1 0a3.05 3.05 0 1 0 -6.1 0M410.86 448.81a3.05 3.05 0 1 0 6.1 0a3.05 3.05 0 1 0 -6.1 0M410.27 449.92a3.05 3.05 0 1 0 6.1 0a3.05 3.05 0 1 0 -6.1 0M409.71 450.96a3.05 3.05 0 1 0 6.1 0a3.05 3.05 0 1 0 -6.1 0M409.18 451.95a3.05 3.05 0 1 0 6.1 0a3.05 3.05 0 1 0 -6.1 0M408.68 452.89a3.05 3.05 0 1 0 6.1 0a3.05 3.05 0 1 0 -6.1 0M408.21 453.78a3.05 3.05 0 1 0 6.1 0a3.05 3.05 0 1 0 -6.1 0M407.76 454.63a3.05 3.05 0 1 0 6.1 0a3.05 3.05 0 1 0 -6.1 0M407.33 455.43a3.05 3.05 0 1 0 6.1 0a3.05 3.05 0 1 0 -6.1 0M406.93 456.19a3.05 3.05 0 1 0 6.1 0a3.05 3.05 0 1 0 -6.1 0M406.55 456.91a3.05 3.05 0 1 0 6.1 0a3.05 3.05 0 1 0 -6.1 0M406.19 457.59a3.05 3.05 0 1 0 6.1 0a3.05 3.05 0 1 0 -6.1 0M405.85 458.24a3.05 3.05 0 1 0 6.1 0a3.05 3.05 0 1 0 -6.1 0M405.53 458.85a3.05 3.05 0 1 0 6.1 0a3.05 3.05 0 1 0 -6.1 0M405.22 459.43a3.05 3.05 0 1 0 6.1 0a3.05 3.05 0 1 0 -6.1 0M404.93 459.98a3.05 3.05 0 1 0 6.1 0a3.05 3.05 0 1 0 -6.1 0M404.65 460.52a3.05 3.05 0 1 0 6.1 0a3.05 3.05 0 1 0 -6.1 0M404.37 461.05a3.05 3.05 0 1 0 6.1 0a3.05 3.05 0 1 0 -6.1 0M404.09 461.58a3.05 3.05 0 1 0 6.1 0a3.05 3.05 0 1 0 -6.1 0M403.81 462.11a3.05 3.05 0 1 0 6.1 0a3.05 3.05 0 1 0 -6.1 0M403.54 462.64a3.05 3.05 0 1 0 6.1 0a3.05 3.05 0 1 0 -6.1 0M403.26 463.17a3.05 3.05 0 1 0 6.1 0a3.05 3.05 0 1 0 -6.1 0M402.98 463.71a3.05 3.05 0 1 0 6.1 0a3.05 3.05 0 1 0 -6.1 0M402.70 464.24a3.05 3.05 0 1 0 6.1 0a3.05 3.05 0 1 0 -6.1 0M402.43 464.77a3.05 3.05 0 1 0 6.1 0a3.05 3.05 0 1 0 -6.1 0M402.15 465.30a3.05 3.05 0 1 0 6.1 0a3.05 3.05 0 1 0 -6.1 0M401.87 465.83a3.05 3.05 0 1 0 6.1 0a3.05 3.05 0 1 0 -6.1 0M401.60 466.37a3.05 3.05 0 1 0 6.1 0a3.05 3.05 0 1 0 -6.1 0M401.32 466.90a3.05 3.05 0 1 0 6.1 0a3.05 3.05 0 1 0 -6.1 0M401.04 467.43a3.05 3.05 0 1 0 6.1 0a3.05 3.05 0 1 0 -6.1 0M400.77 467.96a3.05 3.05 0 1 0 6.1 0a3.05 3.05 0 1 0 -6.1 0M400.49 468.50a3.05 3.05 0 1 0 6.1 0a3.05 3.05 0 1 0 -6.1 0M400.22 469.03a3.05 3.05 0 1 0 6.1 0a3.05 3.05 0 1 0 -6.1 0M399.72 470.00a3.05 3.05 0 1 0 6.1 0a3.05 3.05 0 1 0 -6.1 0" fill="#0a800a"/>
<path d="M403.30 472.34 L403.59 472.25 L403.99 472.12 L404.47 471.97 L404.98 471.81 L405.49 471.64 L405.97 471.49 L406.41 471.34 L406.85 471.19 L407.30 471.05 L407.74 470.90 L408.19 470.74 L408.63 470.59 L409.07 470.44 L409.52 470.28 L409.96 470.12 L410.41 469.97 L410.85 469.81 L411.30 469.65 L411.74 469.48 L412.18 469.32 L412.63 469.15 L413.07 468.99 L413.52 468.82 L413.96 468.65 L414.40 468.48 L414.85 468.31 L415.29 468.14 L415.74 467.96 L416.18 467.79 L416.62 467.61 L417.07 467.43 L417.51 467.25 L417.96 467.07 L418.40 466.89 L418.85 466.70 L419.29 466.52 L419.73 466.33 L420.18 466.15 L420.62 465.96 L421.07 465.77 L421.51 465.57 L421.96 465.38 L422.40 465.19 L422.84 464.99 L423.29 464.79 L423.73 464.60 L424.18 464.40 L424.62 464.19 L425.06 463.99 L425.51 463.79 L425.95 463.58 L426.40 463.38 L426.84 463.17 L427.29 462.96 L427.73 462.75 L428.17 462.54 L428.62 462.32 L429.06 462.11 L429.51 461.89 L429.95 461.68 L430.39 461.46 L430.84 461.24 L431.28 461.02 L431.73 460.80 L432.17 460.57 L432.62 460.35 L433.06 460.12 L433.50 459.89 L433.95 459.66 L434.39 459.43 L434.84 459.20 L435.28 458.97 L435.72 458.73 L436.17 458.50 L436.61 458.26 L437.06 458.02 L437.50 457.78 L437.94 457.54 L438.39 457.30 L438.83 457.05 L439.28 456.81 L439.72 456.56 L440.17 456.31 L440.61 456.07 L441.05 455.82 L441.50 455.56 L441.94 455.31 L442.39 455.06 L442.83 454.80 L443.28 454.54 L443.72 454.28 L444.16 454.02 L444.61 453.76 L445.05 453.50 L445.50 453.24 L445.94 452.97 L446.38 452.70 L446.83 452.44 L447.27 452.17 L447.72 451.90 L448.16 451.62 L448.61 451.35 L449.05 451.08 L449.49 450.80 L449.94 450.52 L450.38 450.25 L450.83 449.97 L451.27 449.68 L451.71 449.40 L452.16 449.12 L452.60 448.83 L453.05 448.55 L453.49 448.26 L453.94 447.97 L454.38 447.68 L454.82 447.39 L455.27 447.09 L455.71 446.80 L456.16 446.50 L456.60 446.20 L457.04 445.91 L457.49 445.61 L457.93 445.30 L458.38 445.00 L458.82 444.70 L459.27 444.39 L459.71 444.09 L460.15 443.78 L460.60 443.47 L461.04 443.16 L461.49 442.85 L461.93 442.53 L462.37 442.22 L462.82 441.90 L463.26 441.58 L463.71 441.27 L464.15 440.95 L464.60 440.62 L465.04 440.30 L465.48 439.98 L465.93 439.65 L466.37 439.33 L466.82 439.00 L467.26 438.67 L467.70 438.34 L468.15 438.00 L468.59 437.67 L469.04 437.34 L469.48 437.00 L469.93 436.66 L470.37 436.32 L470.81 435.98 L471.26 435.64 L471.70 435.30 L472.15 434.96 L472.59 434.61 L473.03 434.26 L473.48 433.92 L473.92 433.57 L474.37 433.22 L474.81 432.86 L475.25 432.51 L475.70 432.16 L476.14 431.80 L476.59 431.44 L477.03 431.08 L477.48 430.72 L477.92 430.36 L478.36 430.00 L478.81 429.63 L479.25 429.27 L479.70 428.90 L480.14 428.53 L480.59 428.16 L481.03 427.79 L481.47 427.42 L481.92 427.05 L482.36 426.67 L482.81 426.30 L483.25 425.92 L483.69 425.54 L484.14 425.16 L484.58 424.78 L485.03 424.40 L485.47 424.01 L485.92 423.63 L486.36 423.24 L486.80 422.85 L487.25 422.46 L487.69 422.07 L488.14 421.68 L488.58 421.28 L489.02 420.89 L489.47 420.49 L489.91 420.10 L490.36 419.70 L490.80 419.30 L491.25 418.90 L491.69 418.49 L492.13 418.09 L492.58 417.68 L493.02 417.28 L493.47 416.87 L493.91 416.46 L494.35 416.05 L494.80 415.63 L495.24 415.22 L495.69 414.81 L496.13 414.39 L496.58 413.97 L497.02 413.55 L497.46 413.13 L497.91 412.71 L498.35 412.29 L498.80 411.86 L499.24 411.44 L499.68 411.01 L500.13 410.58 L500.57 410.15 L501.02 409.72 L501.46 409.29 L501.91 408.86 L502.35 408.42 L502.79 407.98 L503.24 407.55 L503.68 407.11 L504.13 406.67 L504.57 406.23 L505.01 405.78 L505.46 405.34 L505.90 404.89 L506.35 404.45 L506.79 404.00 L507.24 403.55 L507.68 403.10 L508.12 402.64 L508.57 402.19 L509.01 401.74 L509.46 401.28 L509.90 400.82 L510.34 400.36 L510.79 399.90 L511.23 399.44 L511.68 398.98 L512.12 398.51 L512.57 398.05 L513.01 397.58 L513.45 397.11 L513.90 396.64 L514.34 396.17 L514.79 395.70 L515.23 395.22 L515.67 394.75 L516.12 394.27 L516.56 393.79 L517.01 393.32 L517.45 392.84 L517.89 392.35 L518.34 391.87 L518.78 391.39 L519.23 390.90 L519.67 390.41 L520.12 389.92 L520.56 389.43 L521.00 388.94 L521.45 388.45 L521.89 387.96 L522.34 387.46 L522.78 386.97 L523.23 386.47 L523.67 385.97 L524.11 385.47 L524.56 384.97 L525.00 384.46 L525.45 383.96 L525.89 383.45 L526.33 382.95 L526.78 382.44 L527.22 381.93 L527.67 381.42 L528.11 380.90 L528.56 380.39 L529.00 379.87 L529.44 379.36 L529.89 378.84 L530.33 378.32 L530.78 377.80 L531.22 377.28 L531.66 376.76 L532.11 376.23 L532.55 375.70 L533.00 375.18 L533.44 374.65 L533.88 374.12 L534.33 373.59 L534.77 373.06 L535.22 372.52 L535.66 371.99 L536.11 371.45 L536.55 370.91 L536.99 370.37 L537.44 369.83 L537.88 369.29 L538.33 368.75 L538.77 368.20 L539.22 367.66 L539.66 367.11 L540.10 366.56 L540.55 366.01 L540.99 365.46 L541.44 364.91 L541.88 364.35 L542.32 363.80 L542.77 363.24 L543.21 362.68 L543.66 362.12 L544.10 361.56 L544.55 361.00 L544.99 360.44 L545.43 359.87 L545.88 359.31 L546.32 358.74 L546.77 358.17 L547.21 357.60 L547.65 357.03 L548.10 356.46 L548.54 355.88 L548.99 355.31 L549.43 354.73 L549.88 354.15 L550.32 353.57 L550.76 352.99 L551.21 352.41 L551.65 351.83 L552.10 351.24 L552.54 350.66 L552.98 350.07 L553.43 349.48 L553.87 348.89 L554.32 348.30 L554.76 347.71 L555.21 347.11 L555.65 346.52 L556.09 345.92 L556.54 345.32 L556.98 344.72 L557.43 344.12 L557.87 343.52 L558.31 342.91 L558.76 342.31 L559.20 341.70 L559.65 341.10 L560.09 340.49 L560.54 339.88 L561.01 339.22 L561.52 338.52 L562.03 337.81 L562.51 337.15 L562.91 336.59 L563.20 336.19" fill="none" stroke="#0a0a96" stroke-width="1.6" stroke-linejoin="round" />
<path d="M561.00 336.19a2.2 2.2 0 1 0 4.4 0a2.2 2.2 0 1 0 -4.4 0M557.48 341.05a2.2 2.2 0 1 0 4.4 0a2.2 2.2 0 1 0 -4.4 0M553.97 345.81a2.2 2.2 0 1 0 4.4 0a2.2 2.2 0 1 0 -4.4 0M550.48 350.48a2.2 2.2 0 1 0 4.4 0a2.2 2.2 0 1 0 -4.4 0M546.99 355.04a2.2 2.2 0 1 0 4.4 0a2.2 2.2 0 1 0 -4.4 0M543.52 359.51a2.2 2.2 0 1 0 4.4 0a2.2 2.2 0 1 0 -4.4 0M540.05 363.88a2.2 2.2 0 1 0 4.4 0a2.2 2.2 0 1 0 -4.4 0M536.61 368.16a2.2 2.2 0 1 0 4.4 0a2.2 2.2 0 1 0 -4.4 0M533.17 372.33a2.2 2.2 0 1 0 4.4 0a2.2 2.2 0 1 0 -4.4 0M529.76 376.41a2.2 2.2 0 1 0 4.4 0a2.2 2.2 0 1 0 -4.4 0M526.36 380.39a2.2 2.2 0 1 0 4.4 0a2.2 2.2 0 1 0 -4.4 0M522.97 384.27a2.2 2.2 0 1 0 4.4 0a2.2 2.2 0 1 0 -4.4 0M519.60 388.06a2.2 2.2 0 1 0 4.4 0a2.2 2.2 0 1 0 -4.4 0M516.26 391.74a2.2 2.2 0 1 0 4.4 0a2.2 2.2 0 1 0 -4.4 0M512.93 395.33a2.2 2.2 0 1 0 4.4 0a2.2 2.2 0 1 0 -4.4 0M509.62 398.83a2.2 2.2 0 1 0 4.4 0a2.2 2.2 0 1 0 -4.4 0M506.33 402.22a2.2 2.2 0 1 0 4.4 0a2.2 2.2 0 1 0 -4.4 0M503.07 405.52a2.2 2.2 0 1 0 4.4 0a2.2 2.2 0 1 0 -4.4 0M499.83 408.73a2.2 2.2 0 1 0 4.4 0a2.2 2.2 0 1 0 -4.4 0M496.62 411.84a2.2 2.2 0 1 0 4.4 0a2.2 2.2 0 1 0 -4.4 0M493.44 414.85a2.2 2.2 0 1 0 4.4 0a2.2 2.2 0 1 0 -4.4 0M490.28 417.77a2.2 2.2 0 1 0 4.4 0a2.2 2.2 0 1 0 -4.4 0M487.15 420.60a2.2 2.2 0 1 0 4.4 0a2.2 2.2 0 1 0 -4.4 0M484.05 423.33a2.2 2.2 0 1 0 4.4 0a2.2 2.2 0 1 0 -4.4 0M480.99 425.97a2.2 2.2 0 1 0 4.4 0a2.2 2.2 0 1 0 -4.4 0M477.96 428.52a2.2 2.2 0 1 0 4.4 0a2.2 2.2 0 1 0 -4.4 0M474.96 430.98a2.2 2.2 0 1 0 4.4 0a2.2 2.2 0 1 0 -4.4 0M472.01 433.34a2.2 2.2 0 1 0 4.4 0a2.2 2.2 0 1 0 -4.4 0M469.09 435.62a2.2 2.2 0 1 0 4.4 0a2.2 2.2 0 1 0 -4.4 0M466.21 437.81a2.2 2.2 0 1 0 4.4 0a2.2 2.2 0 1 0 -4.4 0M463.37 439.92a2.2 2.2 0 1 0 4.4 0a2.2 2.2 0 1 0 -4.4 0M460.57 441.93a2.2 2.2 0 1 0 4.4 0a2.2 2.2 0 1 0 -4.4 0M457.82 443.87a2.2 2.2 0 1 0 4.4 0a2.2 2.2 0 1 0 -4.4 0M455.12 445.72a2.2 2.2 0 1 0 4.4 0a2.2 2.2 0 1 0 -4.4 0M452.46 447.49a2.2 2.2 0 1 0 4.4 0a2.2 2.2 0 1 0 -4.4 0M449.86 449.18a2.2 2.2 0 1 0 4.4 0a2.2 2.2 0 1 0 -4.4 0M447.30 450.80a2.2 2.2 0 1 0 4.4 0a2.2 2.2 0 1 0 -4.4 0M444.80 452.33a2.2 2.2 0 1 0 4.4 0a2.2 2.2 0 1 0 -4.4 0M442.35 453.79a2.2 2.2 0 1 0 4.4 0a2.2 2.2 0 1 0 -4.4 0M439.96 455.18a2.2 2.2 0 1 0 4.4 0a2.2 2.2 0 1 0 -4.4 0M437.63 456.50a2.2 2.2 0 1 0 4.4 0a2.2 2.2 0 1 0 -4.4 0M435.36 457.75a2.2 2.2 0 1 0 4.4 0a2.2 2.2 0 1 0 -4.4 0M433.15 458.93a2.2 2.2 0 1 0 4.4 0a2.2 2.2 0 1 0 -4.4 0M431.00 460.05a2.2 2.2 0 1 0 4.4 0a2.2 2.2 0 1 0 -4.4 0M428.91 461.10a2.2 2.2 0 1 0 4.4 0a2.2 2.2 0 1 0 -4.4 0M426.89 462.09a2.2 2.2 0 1 0 4.4 0a2.2 2.2 0 1 0 -4.4 0M424.94 463.03a2.2 2.2 0 1 0 4.4 0a2.2 2.2 0 1 0 -4.4 0M423.06 463.90a2.2 2.2 0 1 0 4.4 0a2.2 2.2 0 1 0 -4.4 0M421.24 464.72a2.2 2.2 0 1 0 4.4 0a2.2 2.2 0 1 0 -4.4 0M419.50 465.49a2.2 2.2 0 1 0 4.4 0a2.2 2.2 0 1 0 -4.4 0M417.83 466.21a2.2 2.2 0 1 0 4.4 0a2.2 2.2 0 1 0 -4.4 0M416.23 466.88a2.2 2.2 0 1 0 4.4 0a2.2 2.2 0 1 0 -4.4 0M414.70 467.50a2.2 2.2 0 1 0 4.4 0a2.2 2.2 0 1 0 -4.4 0M413.25 468.07a2.2 2.2 0 1 0 4.4 0a2.2 2.2 0 1 0 -4.4 0M411.88 468.61a2.2 2.2 0 1 0 4.4 0a2.2 2.2 0 1 0 -4.4 0M410.58 469.10a2.2 2.2 0 1 0 4.4 0a2.2 2.2 0 1 0 -4.4 0M409.36 469.55a2.2 2.2 0 1 0 4.4 0a2.2 2.2 0 1 0 -4.4 0M408.22 469.96a2.2 2.2 0 1 0 4.4 0a2.2 2.2 0 1 0 -4.4 0M407.16 470.34a2.2 2.2 0 1 0 4.4 0a2.2 2.2 0 1 0 -4.4 0M406.18 470.68a2.2 2.2 0 1 0 4.4 0a2.2 2.2 0 1 0 -4.4 0M405.28 470.98a2.2 2.2 0 1 0 4.4 0a2.2 2.2 0 1 0 -4.4 0M404.47 471.26a2.2 2.2 0 1 0 4.4 0a2.2 2.2 0 1 0 -4.4 0M403.73 471.50a2.2 2.2 0 1 0 4.4 0a2.2 2.2 0 1 0 -4.4 0M403.08 471.71a2.2 2.2 0 1 0 4.4 0a2.2 2.2 0 1 0 -4.4 0M402.51 471.89a2.2 2.2 0 1 0 4.4 0a2.2 2.2 0 1 0 -4.4 0M401.10 472.34a2.2 2.2 0 1 0 4.4 0a2.2 2.2 0 1 0 -4.4 0" fill="none" stroke="#0a0a96" stroke-width="1.7"/>
<line x1="619" y1="436.3" x2="644" y2="436.3" stroke="#ff0000" stroke-width="2.0"/>
<circle cx="631.4" cy="436.3" r="2.0" fill="#fff" stroke="#ff0000" stroke-width="2.2"/>
<text x="645.7" y="439.50" font-size="11" font-weight="bold">Co</text>
<line x1="619" y1="450.3" x2="644" y2="450.3" stroke="#0a800a" stroke-width="2.0"/>
<circle cx="631.4" cy="450.3" r="2.6" fill="#0a800a"/>
<text x="645.7" y="453.50" font-size="11" font-weight="bold">Ni</text>
<line x1="619" y1="464.3" x2="644" y2="464.3" stroke="#0a0a96" stroke-width="2.0"/>
<circle cx="631.4" cy="464.3" r="2.0" fill="#fff" stroke="#0a0a96" stroke-width="2.2"/>
<text x="645.7" y="467.50" font-size="11" font-weight="bold">CoNi</text>
<clipPath id="ce"><rect x="50.2" y="537.8" width="272" height="201.9"/></clipPath>
<g clip-path="url(#ce)">
<path d="M55.80 733.50 L56.06 732.52 L56.42 731.12 L56.85 729.49 L57.29 727.80 L57.69 726.25 L58.01 725.00 L58.22 724.09 L58.38 723.37 L58.51 722.78 L58.61 722.25 L58.71 721.73 L58.83 721.14 L58.97 720.50 L59.11 719.85 L59.25 719.21 L59.39 718.57 L59.53 717.92 L59.68 717.28 L59.82 716.64 L59.96 715.99 L60.10 715.35 L60.24 714.71 L60.39 714.06 L60.53 713.42 L60.67 712.78 L60.82 712.13 L60.96 711.49 L61.11 710.85 L61.25 710.20 L61.40 709.56 L61.54 708.92 L61.69 708.27 L61.84 707.63 L61.98 706.99 L62.13 706.34 L62.28 705.70 L62.43 705.06 L62.58 704.41 L62.73 703.77 L62.87 703.13 L63.02 702.48 L63.17 701.84 L63.32 701.20 L63.48 700.55 L63.63 699.91 L63.78 699.27 L63.93 698.62 L64.08 697.98 L64.24 697.34 L64.39 696.69 L64.54 696.05 L64.70 695.41 L64.85 694.76 L65.00 694.12 L65.16 693.48 L65.31 692.83 L65.47 692.19 L65.63 691.55 L65.78 690.90 L65.94 690.26 L66.10 689.62 L66.25 688.97 L66.41 688.33 L66.57 687.69 L66.73 687.04 L66.89 686.40 L67.05 685.76 L67.20 685.11 L67.36 684.47 L67.53 683.83 L67.69 683.18 L67.85 682.54 L68.01 681.90 L68.17 681.25 L68.33 680.61 L68.50 679.97 L68.66 679.32 L68.82 678.68 L68.99 678.04 L69.15 677.39 L69.31 676.75 L69.48 676.11 L69.64 675.46 L69.81 674.82 L69.98 674.18 L70.14 673.53 L70.31 672.89 L70.48 672.25 L70.64 671.60 L70.81 670.96 L70.98 670.32 L71.15 669.67 L71.32 669.03 L71.49 668.39 L71.66 667.74 L71.83 667.10 L72.00 666.46 L72.17 665.81 L72.34 665.17 L72.51 664.53 L72.68 663.88 L72.85 663.24 L73.03 662.60 L73.20 661.95 L73.37 661.31 L73.55 660.67 L73.72 660.02 L73.89 659.38 L74.07 658.74 L74.24 658.09 L74.42 657.45 L74.60 656.81 L74.77 656.16 L74.95 655.52 L75.13 654.88 L75.30 654.23 L75.48 653.59 L75.66 652.95 L75.84 652.30 L76.02 651.66 L76.20 651.02 L76.38 650.37 L76.56 649.73 L76.74 649.09 L76.92 648.44 L77.10 647.80 L77.28 647.16 L77.46 646.51 L77.64 645.87 L77.83 645.23 L78.01 644.58 L78.19 643.94 L78.38 643.30 L78.56 642.65 L78.74 642.01 L78.93 641.37 L79.11 640.72 L79.30 640.08 L79.49 639.44 L79.67 638.79 L79.86 638.15 L80.05 637.51 L80.23 636.86 L80.42 636.22 L80.61 635.58 L80.80 634.93 L80.99 634.29 L81.18 633.65 L81.36 633.00 L81.55 632.36 L81.75 631.72 L81.94 631.07 L82.13 630.43 L82.32 629.79 L82.51 629.14 L82.70 628.50 L82.89 627.86 L83.09 627.21 L83.28 626.57 L83.47 625.93 L83.67 625.28 L83.86 624.64 L84.06 624.00 L84.25 623.35 L84.45 622.71 L84.64 622.07 L84.84 621.42 L85.04 620.78 L85.23 620.14 L85.43 619.49 L85.63 618.85 L85.83 618.21 L86.03 617.56 L86.23 616.92 L86.42 616.28 L86.62 615.63 L86.82 614.99 L87.02 614.35 L87.23 613.70 L87.43 613.06 L87.63 612.42 L87.83 611.77 L88.03 611.13 L88.23 610.49 L88.44 609.84 L88.64 609.20 L88.84 608.56 L89.05 607.91 L89.25 607.27 L89.46 606.63 L89.66 605.98 L89.87 605.34 L90.07 604.70 L90.28 604.05 L90.49 603.41 L90.69 602.77 L90.90 602.12 L91.11 601.48 L91.32 600.84 L91.53 600.19 L91.73 599.55 L91.94 598.91 L92.15 598.26 L92.36 597.62 L92.57 596.98 L92.78 596.33 L93.00 595.69 L93.21 595.05 L93.42 594.40 L93.63 593.76 L93.84 593.12 L94.06 592.47 L94.27 591.83 L94.48 591.19 L94.70 590.54 L94.91 589.90 L95.13 589.26 L95.34 588.61 L95.56 587.97 L95.77 587.33 L95.99 586.68 L96.21 586.04 L96.42 585.40 L96.64 584.75 L96.86 584.11 L97.08 583.47 L97.29 582.82 L97.51 582.18 L97.73 581.54 L97.95 580.89 L98.17 580.25 L98.39 579.61 L98.61 578.96 L98.83 578.32 L99.06 577.68 L99.28 577.03 L99.50 576.39 L99.72 575.75 L99.94 575.10 L100.17 574.46 L100.39 573.82 L100.62 573.17 L100.84 572.53 L101.06 571.89 L101.29 571.24 L101.52 570.60 L101.74 569.96 L101.97 569.31 L102.19 568.67 L102.42 568.03 L102.65 567.38 L102.88 566.74 L103.10 566.10 L103.33 565.45 L103.56 564.81 L103.79 564.17 L104.02 563.52 L104.25 562.88 L104.48 562.24 L104.71 561.59 L104.94 560.95 L105.17 560.31 L105.41 559.66 L105.64 559.02 L105.87 558.38 L106.10 557.73 L106.34 557.09 L106.57 556.45 L106.80 555.80 L107.04 555.16 L107.27 554.52 L107.51 553.87 L107.74 553.23 L107.98 552.59 L108.22 551.94 L108.45 551.30 L108.69 550.66 L108.93 550.01 L109.16 549.37 L109.40 548.73 L109.64 548.08 L109.88 547.44 L110.12 546.80 L110.36 546.15 L110.60 545.51 L110.84 544.87 L111.08 544.22 L111.32 543.58 L111.56 542.94 L111.80 542.29 L112.05 541.65 L112.29 541.01 L112.53 540.36 L112.77 539.72 L113.02 539.08 L113.26 538.43 L113.51 537.79 L113.75 537.15 L114.00 536.50 L114.24 535.86 L114.50 535.17 L114.79 534.43 L115.07 533.69 L115.34 533.00 L115.56 532.42 L115.72 532.00" fill="none" stroke="#0a800a" stroke-width="1.5" stroke-linejoin="round" />
<path d="M113.52 532.00a2.2 2.2 0 1 0 4.4 0a2.2 2.2 0 1 0 -4.4 0M109.96 541.34a2.2 2.2 0 1 0 4.4 0a2.2 2.2 0 1 0 -4.4 0M106.68 550.14a2.2 2.2 0 1 0 4.4 0a2.2 2.2 0 1 0 -4.4 0M103.65 558.42a2.2 2.2 0 1 0 4.4 0a2.2 2.2 0 1 0 -4.4 0M100.86 566.23a2.2 2.2 0 1 0 4.4 0a2.2 2.2 0 1 0 -4.4 0M98.27 573.60a2.2 2.2 0 1 0 4.4 0a2.2 2.2 0 1 0 -4.4 0M95.87 580.55a2.2 2.2 0 1 0 4.4 0a2.2 2.2 0 1 0 -4.4 0M93.64 587.11a2.2 2.2 0 1 0 4.4 0a2.2 2.2 0 1 0 -4.4 0M91.58 593.32a2.2 2.2 0 1 0 4.4 0a2.2 2.2 0 1 0 -4.4 0M89.65 599.19a2.2 2.2 0 1 0 4.4 0a2.2 2.2 0 1 0 -4.4 0M87.86 604.75a2.2 2.2 0 1 0 4.4 0a2.2 2.2 0 1 0 -4.4 0M86.18 610.01a2.2 2.2 0 1 0 4.4 0a2.2 2.2 0 1 0 -4.4 0M84.62 615.00a2.2 2.2 0 1 0 4.4 0a2.2 2.2 0 1 0 -4.4 0M83.16 619.73a2.2 2.2 0 1 0 4.4 0a2.2 2.2 0 1 0 -4.4 0M81.79 624.22a2.2 2.2 0 1 0 4.4 0a2.2 2.2 0 1 0 -4.4 0M80.51 628.48a2.2 2.2 0 1 0 4.4 0a2.2 2.2 0 1 0 -4.4 0M79.30 632.53a2.2 2.2 0 1 0 4.4 0a2.2 2.2 0 1 0 -4.4 0M78.17 636.38a2.2 2.2 0 1 0 4.4 0a2.2 2.2 0 1 0 -4.4 0M77.11 640.04a2.2 2.2 0 1 0 4.4 0a2.2 2.2 0 1 0 -4.4 0M76.11 643.52a2.2 2.2 0 1 0 4.4 0a2.2 2.2 0 1 0 -4.4 0M75.17 646.84a2.2 2.2 0 1 0 4.4 0a2.2 2.2 0 1 0 -4.4 0M74.28 650.00a2.2 2.2 0 1 0 4.4 0a2.2 2.2 0 1 0 -4.4 0M73.44 653.01a2.2 2.2 0 1 0 4.4 0a2.2 2.2 0 1 0 -4.4 0M72.65 655.88a2.2 2.2 0 1 0 4.4 0a2.2 2.2 0 1 0 -4.4 0M71.90 658.62a2.2 2.2 0 1 0 4.4 0a2.2 2.2 0 1 0 -4.4 0M71.19 661.24a2.2 2.2 0 1 0 4.4 0a2.2 2.2 0 1 0 -4.4 0M70.52 663.74a2.2 2.2 0 1 0 4.4 0a2.2 2.2 0 1 0 -4.4 0M69.88 666.12a2.2 2.2 0 1 0 4.4 0a2.2 2.2 0 1 0 -4.4 0M69.28 668.41a2.2 2.2 0 1 0 4.4 0a2.2 2.2 0 1 0 -4.4 0M68.71 670.59a2.2 2.2 0 1 0 4.4 0a2.2 2.2 0 1 0 -4.4 0M68.16 672.68a2.2 2.2 0 1 0 4.4 0a2.2 2.2 0 1 0 -4.4 0M67.65 674.68a2.2 2.2 0 1 0 4.4 0a2.2 2.2 0 1 0 -4.4 0M67.15 676.59a2.2 2.2 0 1 0 4.4 0a2.2 2.2 0 1 0 -4.4 0M66.69 678.43a2.2 2.2 0 1 0 4.4 0a2.2 2.2 0 1 0 -4.4 0M66.24 680.19a2.2 2.2 0 1 0 4.4 0a2.2 2.2 0 1 0 -4.4 0M65.81 681.87a2.2 2.2 0 1 0 4.4 0a2.2 2.2 0 1 0 -4.4 0M65.41 683.49a2.2 2.2 0 1 0 4.4 0a2.2 2.2 0 1 0 -4.4 0M65.02 685.04a2.2 2.2 0 1 0 4.4 0a2.2 2.2 0 1 0 -4.4 0M64.65 686.53a2.2 2.2 0 1 0 4.4 0a2.2 2.2 0 1 0 -4.4 0M64.30 687.96a2.2 2.2 0 1 0 4.4 0a2.2 2.2 0 1 0 -4.4 0M63.96 689.34a2.2 2.2 0 1 0 4.4 0a2.2 2.2 0 1 0 -4.4 0M63.64 690.66a2.2 2.2 0 1 0 4.4 0a2.2 2.2 0 1 0 -4.4 0M63.33 691.93a2.2 2.2 0 1 0 4.4 0a2.2 2.2 0 1 0 -4.4 0M63.04 693.15a2.2 2.2 0 1 0 4.4 0a2.2 2.2 0 1 0 -4.4 0M62.75 694.33a2.2 2.2 0 1 0 4.4 0a2.2 2.2 0 1 0 -4.4 0M62.48 695.46a2.2 2.2 0 1 0 4.4 0a2.2 2.2 0 1 0 -4.4 0M62.22 696.55a2.2 2.2 0 1 0 4.4 0a2.2 2.2 0 1 0 -4.4 0M61.97 697.60a2.2 2.2 0 1 0 4.4 0a2.2 2.2 0 1 0 -4.4 0M61.73 698.61a2.2 2.2 0 1 0 4.4 0a2.2 2.2 0 1 0 -4.4 0M61.50 699.59a2.2 2.2 0 1 0 4.4 0a2.2 2.2 0 1 0 -4.4 0M61.28 700.53a2.2 2.2 0 1 0 4.4 0a2.2 2.2 0 1 0 -4.4 0M61.07 701.43a2.2 2.2 0 1 0 4.4 0a2.2 2.2 0 1 0 -4.4 0M60.87 702.30a2.2 2.2 0 1 0 4.4 0a2.2 2.2 0 1 0 -4.4 0M60.67 703.15a2.2 2.2 0 1 0 4.4 0a2.2 2.2 0 1 0 -4.4 0M60.48 703.96a2.2 2.2 0 1 0 4.4 0a2.2 2.2 0 1 0 -4.4 0M60.30 704.75a2.2 2.2 0 1 0 4.4 0a2.2 2.2 0 1 0 -4.4 0M60.12 705.51a2.2 2.2 0 1 0 4.4 0a2.2 2.2 0 1 0 -4.4 0M59.96 706.24a2.2 2.2 0 1 0 4.4 0a2.2 2.2 0 1 0 -4.4 0M59.79 706.95a2.2 2.2 0 1 0 4.4 0a2.2 2.2 0 1 0 -4.4 0M59.64 707.63a2.2 2.2 0 1 0 4.4 0a2.2 2.2 0 1 0 -4.4 0M59.49 708.29a2.2 2.2 0 1 0 4.4 0a2.2 2.2 0 1 0 -4.4 0M59.34 708.93a2.2 2.2 0 1 0 4.4 0a2.2 2.2 0 1 0 -4.4 0M59.20 709.55a2.2 2.2 0 1 0 4.4 0a2.2 2.2 0 1 0 -4.4 0M59.07 710.15a2.2 2.2 0 1 0 4.4 0a2.2 2.2 0 1 0 -4.4 0M58.93 710.73a2.2 2.2 0 1 0 4.4 0a2.2 2.2 0 1 0 -4.4 0M58.81 711.29a2.2 2.2 0 1 0 4.4 0a2.2 2.2 0 1 0 -4.4 0M58.69 711.83a2.2 2.2 0 1 0 4.4 0a2.2 2.2 0 1 0 -4.4 0M58.57 712.36a2.2 2.2 0 1 0 4.4 0a2.2 2.2 0 1 0 -4.4 0M58.45 712.87a2.2 2.2 0 1 0 4.4 0a2.2 2.2 0 1 0 -4.4 0M58.34 713.36a2.2 2.2 0 1 0 4.4 0a2.2 2.2 0 1 0 -4.4 0M58.23 713.85a2.2 2.2 0 1 0 4.4 0a2.2 2.2 0 1 0 -4.4 0M58.13 714.34a2.2 2.2 0 1 0 4.4 0a2.2 2.2 0 1 0 -4.4 0M58.02 714.83a2.2 2.2 0 1 0 4.4 0a2.2 2.2 0 1 0 -4.4 0M57.91 715.32a2.2 2.2 0 1 0 4.4 0a2.2 2.2 0 1 0 -4.4 0M57.80 715.80a2.2 2.2 0 1 0 4.4 0a2.2 2.2 0 1 0 -4.4 0M57.69 716.29a2.2 2.2 0 1 0 4.4 0a2.2 2.2 0 1 0 -4.4 0M57.59 716.78a2.2 2.2 0 1 0 4.4 0a2.2 2.2 0 1 0 -4.4 0M57.48 717.27a2.2 2.2 0 1 0 4.4 0a2.2 2.2 0 1 0 -4.4 0M57.37 717.76a2.2 2.2 0 1 0 4.4 0a2.2 2.2 0 1 0 -4.4 0M57.26 718.25a2.2 2.2 0 1 0 4.4 0a2.2 2.2 0 1 0 -4.4 0M57.16 718.73a2.2 2.2 0 1 0 4.4 0a2.2 2.2 0 1 0 -4.4 0M57.05 719.22a2.2 2.2 0 1 0 4.4 0a2.2 2.2 0 1 0 -4.4 0M56.94 719.71a2.2 2.2 0 1 0 4.4 0a2.2 2.2 0 1 0 -4.4 0M56.84 720.20a2.2 2.2 0 1 0 4.4 0a2.2 2.2 0 1 0 -4.4 0M56.73 720.69a2.2 2.2 0 1 0 4.4 0a2.2 2.2 0 1 0 -4.4 0M56.63 721.18a2.2 2.2 0 1 0 4.4 0a2.2 2.2 0 1 0 -4.4 0M56.53 721.67a2.2 2.2 0 1 0 4.4 0a2.2 2.2 0 1 0 -4.4 0M56.43 722.16a2.2 2.2 0 1 0 4.4 0a2.2 2.2 0 1 0 -4.4 0M56.33 722.65a2.2 2.2 0 1 0 4.4 0a2.2 2.2 0 1 0 -4.4 0M56.23 723.14a2.2 2.2 0 1 0 4.4 0a2.2 2.2 0 1 0 -4.4 0M56.13 723.63a2.2 2.2 0 1 0 4.4 0a2.2 2.2 0 1 0 -4.4 0M56.02 724.11a2.2 2.2 0 1 0 4.4 0a2.2 2.2 0 1 0 -4.4 0M55.90 724.60a2.2 2.2 0 1 0 4.4 0a2.2 2.2 0 1 0 -4.4 0M55.78 725.09a2.2 2.2 0 1 0 4.4 0a2.2 2.2 0 1 0 -4.4 0M55.66 725.57a2.2 2.2 0 1 0 4.4 0a2.2 2.2 0 1 0 -4.4 0M55.54 726.06a2.2 2.2 0 1 0 4.4 0a2.2 2.2 0 1 0 -4.4 0M55.42 726.54a2.2 2.2 0 1 0 4.4 0a2.2 2.2 0 1 0 -4.4 0M55.29 727.02a2.2 2.2 0 1 0 4.4 0a2.2 2.2 0 1 0 -4.4 0M55.17 727.51a2.2 2.2 0 1 0 4.4 0a2.2 2.2 0 1 0 -4.4 0M55.04 727.99a2.2 2.2 0 1 0 4.4 0a2.2 2.2 0 1 0 -4.4 0M54.92 728.48a2.2 2.2 0 1 0 4.4 0a2.2 2.2 0 1 0 -4.4 0M54.79 728.96a2.2 2.2 0 1 0 4.4 0a2.2 2.2 0 1 0 -4.4 0M54.66 729.44a2.2 2.2 0 1 0 4.4 0a2.2 2.2 0 1 0 -4.4 0M54.54 729.93a2.2 2.2 0 1 0 4.4 0a2.2 2.2 0 1 0 -4.4 0M54.41 730.41a2.2 2.2 0 1 0 4.4 0a2.2 2.2 0 1 0 -4.4 0M54.28 730.90a2.2 2.2 0 1 0 4.4 0a2.2 2.2 0 1 0 -4.4 0M54.16 731.38a2.2 2.2 0 1 0 4.4 0a2.2 2.2 0 1 0 -4.4 0M54.03 731.86a2.2 2.2 0 1 0 4.4 0a2.2 2.2 0 1 0 -4.4 0M53.90 732.35a2.2 2.2 0 1 0 4.4 0a2.2 2.2 0 1 0 -4.4 0M53.60 733.50a2.2 2.2 0 1 0 4.4 0a2.2 2.2 0 1 0 -4.4 0" fill="#0a800a"/>
<path d="M55.10 734.40 L55.76 733.87 L56.64 733.16 L57.69 732.31 L58.90 731.35 L60.25 730.34 L61.70 729.30 L63.42 728.17 L65.46 726.90 L67.63 725.57 L69.75 724.26 L71.61 723.04 L73.05 722.00 L73.97 721.16 L74.53 720.47 L74.84 719.88 L75.03 719.34 L75.21 718.79 L75.51 718.20 L75.91 717.57 L76.31 716.93 L76.71 716.30 L77.10 715.67 L77.49 715.03 L77.88 714.40 L78.26 713.77 L78.65 713.13 L79.03 712.50 L79.40 711.87 L79.78 711.23 L80.15 710.60 L80.52 709.97 L80.88 709.33 L81.24 708.70 L81.61 708.07 L81.96 707.43 L82.32 706.80 L82.67 706.17 L83.02 705.53 L83.37 704.90 L83.72 704.27 L84.06 703.63 L84.40 703.00 L84.74 702.37 L85.07 701.73 L85.41 701.10 L85.74 700.47 L86.06 699.83 L86.39 699.20 L86.71 698.57 L87.03 697.93 L87.35 697.30 L87.67 696.67 L87.98 696.03 L88.29 695.40 L88.60 694.77 L88.91 694.13 L89.22 693.50 L89.52 692.87 L89.82 692.23 L90.12 691.60 L90.41 690.97 L90.71 690.33 L91.00 689.70 L91.29 689.07 L91.58 688.43 L91.86 687.80 L92.14 687.17 L92.42 686.53 L92.70 685.90 L92.98 685.27 L93.25 684.63 L93.53 684.00 L93.80 683.37 L94.07 682.73 L94.33 682.10 L94.60 681.47 L94.86 680.83 L95.12 680.20 L95.38 679.57 L95.64 678.93 L95.89 678.30 L96.15 677.67 L96.40 677.03 L96.65 676.40 L96.89 675.77 L97.14 675.13 L97.38 674.50 L97.63 673.87 L97.87 673.23 L98.11 672.60 L98.34 671.97 L98.58 671.33 L98.81 670.70 L99.04 670.07 L99.27 669.43 L99.50 668.80 L99.73 668.17 L99.95 667.53 L100.18 666.90 L100.40 666.27 L100.62 665.63 L100.84 665.00 L101.05 664.37 L101.27 663.73 L101.48 663.10 L101.69 662.47 L101.91 661.83 L102.12 661.20 L102.32 660.57 L102.53 659.93 L102.73 659.30 L102.94 658.67 L103.14 658.03 L103.34 657.40 L103.54 656.77 L103.74 656.13 L103.93 655.50 L104.13 654.87 L104.32 654.23 L104.52 653.60 L104.71 652.97 L104.90 652.33 L105.09 651.70 L105.27 651.07 L105.46 650.43 L105.64 649.80 L105.83 649.17 L106.01 648.53 L106.19 647.90 L106.37 647.27 L106.55 646.63 L106.73 646.00 L106.91 645.37 L107.08 644.73 L107.26 644.10 L107.43 643.47 L107.60 642.83 L107.77 642.20 L107.94 641.57 L108.11 640.93 L108.28 640.30 L108.45 639.67 L108.61 639.03 L108.78 638.40 L108.94 637.77 L109.11 637.13 L109.27 636.50 L109.43 635.87 L109.59 635.23 L109.75 634.60 L109.91 633.97 L110.07 633.33 L110.23 632.70 L110.38 632.07 L110.54 631.43 L110.69 630.80 L110.85 630.17 L111.00 629.53 L111.16 628.90 L111.31 628.27 L111.46 627.63 L111.61 627.00 L111.76 626.37 L111.91 625.73 L112.06 625.10 L112.21 624.47 L112.35 623.83 L112.50 623.20 L112.65 622.57 L112.79 621.93 L112.94 621.30 L113.08 620.67 L113.22 620.03 L113.37 619.40 L113.51 618.77 L113.65 618.13 L113.80 617.50 L113.94 616.87 L114.08 616.23 L114.22 615.60 L114.36 614.97 L114.50 614.33 L114.64 613.70 L114.78 613.07 L114.92 612.43 L115.06 611.80 L115.19 611.17 L115.33 610.53 L115.47 609.90 L115.61 609.27 L115.74 608.63 L115.88 608.00 L116.02 607.37 L116.15 606.73 L116.29 606.10 L116.43 605.47 L116.56 604.83 L116.70 604.20 L116.83 603.57 L116.97 602.93 L117.10 602.30 L117.24 601.67 L117.38 601.03 L117.51 600.40 L117.65 599.77 L117.78 599.13 L117.92 598.50 L118.05 597.87 L118.19 597.23 L118.32 596.60 L118.46 595.97 L118.59 595.33 L118.73 594.70 L118.86 594.07 L119.00 593.43 L119.13 592.80 L119.27 592.17 L119.40 591.53 L119.54 590.90 L119.68 590.27 L119.81 589.63 L119.95 589.00 L120.09 588.37 L120.22 587.73 L120.36 587.10 L120.50 586.47 L120.64 585.83 L120.77 585.20 L120.91 584.57 L121.05 583.93 L121.19 583.30 L121.33 582.67 L121.47 582.03 L121.61 581.40 L121.75 580.77 L121.89 580.13 L122.03 579.50 L122.18 578.87 L122.32 578.23 L122.46 577.60 L122.60 576.97 L122.75 576.33 L122.89 575.70 L123.04 575.07 L123.18 574.43 L123.33 573.80 L123.48 573.17 L123.62 572.53 L123.77 571.90 L123.92 571.27 L124.07 570.63 L124.22 570.00 L124.37 569.37 L124.52 568.73 L124.67 568.10 L124.82 567.47 L124.98 566.83 L125.13 566.20 L125.29 565.57 L125.44 564.93 L125.60 564.30 L125.75 563.67 L125.91 563.03 L126.07 562.40 L126.23 561.77 L126.39 561.13 L126.55 560.50 L126.71 559.87 L126.88 559.23 L127.04 558.60 L127.21 557.97 L127.37 557.33 L127.54 556.70 L127.71 556.07 L127.88 555.43 L128.05 554.80 L128.22 554.17 L128.39 553.53 L128.56 552.90 L128.74 552.27 L128.91 551.63 L129.09 551.00 L129.27 550.37 L129.45 549.73 L129.63 549.10 L129.81 548.47 L129.99 547.83 L130.17 547.20 L130.36 546.57 L130.54 545.93 L130.73 545.30 L130.92 544.67 L131.11 544.03 L131.30 543.40 L131.49 542.77 L131.68 542.13 L131.88 541.50 L132.07 540.87 L132.27 540.23 L132.47 539.60 L132.67 538.97 L132.87 538.33 L133.08 537.70 L133.28 537.07 L133.49 536.43 L133.69 535.80 L133.92 535.12 L134.16 534.39 L134.41 533.66 L134.64 532.99 L134.83 532.41 L134.97 532.00" fill="none" stroke="#ff0000" stroke-width="1.4" stroke-linejoin="round" />
<path d="M133.17 532.00a1.8 1.8 0 1 0 3.6 0a1.8 1.8 0 1 0 -3.6 0M130.08 541.51a1.8 1.8 0 1 0 3.6 0a1.8 1.8 0 1 0 -3.6 0M127.38 550.67a1.8 1.8 0 1 0 3.6 0a1.8 1.8 0 1 0 -3.6 0M125.01 559.48a1.8 1.8 0 1 0 3.6 0a1.8 1.8 0 1 0 -3.6 0M122.91 567.94a1.8 1.8 0 1 0 3.6 0a1.8 1.8 0 1 0 -3.6 0M121.01 576.04a1.8 1.8 0 1 0 3.6 0a1.8 1.8 0 1 0 -3.6 0M119.28 583.80a1.8 1.8 0 1 0 3.6 0a1.8 1.8 0 1 0 -3.6 0M117.67 591.22a1.8 1.8 0 1 0 3.6 0a1.8 1.8 0 1 0 -3.6 0M116.16 598.31a1.8 1.8 0 1 0 3.6 0a1.8 1.8 0 1 0 -3.6 0M114.71 605.09a1.8 1.8 0 1 0 3.6 0a1.8 1.8 0 1 0 -3.6 0M113.31 611.55a1.8 1.8 0 1 0 3.6 0a1.8 1.8 0 1 0 -3.6 0M111.95 617.72a1.8 1.8 0 1 0 3.6 0a1.8 1.8 0 1 0 -3.6 0M110.60 623.61a1.8 1.8 0 1 0 3.6 0a1.8 1.8 0 1 0 -3.6 0M109.28 629.22a1.8 1.8 0 1 0 3.6 0a1.8 1.8 0 1 0 -3.6 0M107.96 634.57a1.8 1.8 0 1 0 3.6 0a1.8 1.8 0 1 0 -3.6 0M106.65 639.66a1.8 1.8 0 1 0 3.6 0a1.8 1.8 0 1 0 -3.6 0M105.34 644.51a1.8 1.8 0 1 0 3.6 0a1.8 1.8 0 1 0 -3.6 0M104.04 649.13a1.8 1.8 0 1 0 3.6 0a1.8 1.8 0 1 0 -3.6 0M102.74 653.52a1.8 1.8 0 1 0 3.6 0a1.8 1.8 0 1 0 -3.6 0M101.44 657.70a1.8 1.8 0 1 0 3.6 0a1.8 1.8 0 1 0 -3.6 0M100.16 661.68a1.8 1.8 0 1 0 3.6 0a1.8 1.8 0 1 0 -3.6 0M98.88 665.46a1.8 1.8 0 1 0 3.6 0a1.8 1.8 0 1 0 -3.6 0M97.61 669.06a1.8 1.8 0 1 0 3.6 0a1.8 1.8 0 1 0 -3.6 0M96.35 672.48a1.8 1.8 0 1 0 3.6 0a1.8 1.8 0 1 0 -3.6 0M95.11 675.73a1.8 1.8 0 1 0 3.6 0a1.8 1.8 0 1 0 -3.6 0M93.88 678.82a1.8 1.8 0 1 0 3.6 0a1.8 1.8 0 1 0 -3.6 0M92.68 681.76a1.8 1.8 0 1 0 3.6 0a1.8 1.8 0 1 0 -3.6 0M91.49 684.55a1.8 1.8 0 1 0 3.6 0a1.8 1.8 0 1 0 -3.6 0M90.33 687.20a1.8 1.8 0 1 0 3.6 0a1.8 1.8 0 1 0 -3.6 0M89.19 689.72a1.8 1.8 0 1 0 3.6 0a1.8 1.8 0 1 0 -3.6 0M88.07 692.12a1.8 1.8 0 1 0 3.6 0a1.8 1.8 0 1 0 -3.6 0M86.99 694.39a1.8 1.8 0 1 0 3.6 0a1.8 1.8 0 1 0 -3.6 0M85.92 696.56a1.8 1.8 0 1 0 3.6 0a1.8 1.8 0 1 0 -3.6 0M84.89 698.61a1.8 1.8 0 1 0 3.6 0a1.8 1.8 0 1 0 -3.6 0M83.88 700.57a1.8 1.8 0 1 0 3.6 0a1.8 1.8 0 1 0 -3.6 0M82.90 702.43a1.8 1.8 0 1 0 3.6 0a1.8 1.8 0 1 0 -3.6 0M81.96 704.19a1.8 1.8 0 1 0 3.6 0a1.8 1.8 0 1 0 -3.6 0M81.03 705.87a1.8 1.8 0 1 0 3.6 0a1.8 1.8 0 1 0 -3.6 0M80.14 707.47a1.8 1.8 0 1 0 3.6 0a1.8 1.8 0 1 0 -3.6 0M79.28 708.99a1.8 1.8 0 1 0 3.6 0a1.8 1.8 0 1 0 -3.6 0M78.44 710.44a1.8 1.8 0 1 0 3.6 0a1.8 1.8 0 1 0 -3.6 0M77.63 711.81a1.8 1.8 0 1 0 3.6 0a1.8 1.8 0 1 0 -3.6 0M76.85 713.12a1.8 1.8 0 1 0 3.6 0a1.8 1.8 0 1 0 -3.6 0M76.10 714.36a1.8 1.8 0 1 0 3.6 0a1.8 1.8 0 1 0 -3.6 0M75.37 715.55a1.8 1.8 0 1 0 3.6 0a1.8 1.8 0 1 0 -3.6 0M74.67 716.68a1.8 1.8 0 1 0 3.6 0a1.8 1.8 0 1 0 -3.6 0M74.00 717.75a1.8 1.8 0 1 0 3.6 0a1.8 1.8 0 1 0 -3.6 0M73.41 718.80a1.8 1.8 0 1 0 3.6 0a1.8 1.8 0 1 0 -3.6 0M73.03 719.90a1.8 1.8 0 1 0 3.6 0a1.8 1.8 0 1 0 -3.6 0M72.44 720.83a1.8 1.8 0 1 0 3.6 0a1.8 1.8 0 1 0 -3.6 0M71.71 721.58a1.8 1.8 0 1 0 3.6 0a1.8 1.8 0 1 0 -3.6 0M70.94 722.22a1.8 1.8 0 1 0 3.6 0a1.8 1.8 0 1 0 -3.6 0M70.16 722.79a1.8 1.8 0 1 0 3.6 0a1.8 1.8 0 1 0 -3.6 0M69.40 723.31a1.8 1.8 0 1 0 3.6 0a1.8 1.8 0 1 0 -3.6 0M68.66 723.79a1.8 1.8 0 1 0 3.6 0a1.8 1.8 0 1 0 -3.6 0M67.96 724.25a1.8 1.8 0 1 0 3.6 0a1.8 1.8 0 1 0 -3.6 0M67.28 724.67a1.8 1.8 0 1 0 3.6 0a1.8 1.8 0 1 0 -3.6 0M66.63 725.07a1.8 1.8 0 1 0 3.6 0a1.8 1.8 0 1 0 -3.6 0M66.01 725.46a1.8 1.8 0 1 0 3.6 0a1.8 1.8 0 1 0 -3.6 0M65.42 725.82a1.8 1.8 0 1 0 3.6 0a1.8 1.8 0 1 0 -3.6 0M64.85 726.17a1.8 1.8 0 1 0 3.6 0a1.8 1.8 0 1 0 -3.6 0M64.30 726.50a1.8 1.8 0 1 0 3.6 0a1.8 1.8 0 1 0 -3.6 0M63.79 726.82a1.8 1.8 0 1 0 3.6 0a1.8 1.8 0 1 0 -3.6 0M63.29 727.13a1.8 1.8 0 1 0 3.6 0a1.8 1.8 0 1 0 -3.6 0M62.82 727.42a1.8 1.8 0 1 0 3.6 0a1.8 1.8 0 1 0 -3.6 0M62.37 727.70a1.8 1.8 0 1 0 3.6 0a1.8 1.8 0 1 0 -3.6 0M61.94 727.97a1.8 1.8 0 1 0 3.6 0a1.8 1.8 0 1 0 -3.6 0M61.52 728.24a1.8 1.8 0 1 0 3.6 0a1.8 1.8 0 1 0 -3.6 0M61.10 728.51a1.8 1.8 0 1 0 3.6 0a1.8 1.8 0 1 0 -3.6 0M60.68 728.79a1.8 1.8 0 1 0 3.6 0a1.8 1.8 0 1 0 -3.6 0M60.26 729.06a1.8 1.8 0 1 0 3.6 0a1.8 1.8 0 1 0 -3.6 0M59.85 729.34a1.8 1.8 0 1 0 3.6 0a1.8 1.8 0 1 0 -3.6 0M59.44 729.63a1.8 1.8 0 1 0 3.6 0a1.8 1.8 0 1 0 -3.6 0M59.03 729.92a1.8 1.8 0 1 0 3.6 0a1.8 1.8 0 1 0 -3.6 0M58.63 730.21a1.8 1.8 0 1 0 3.6 0a1.8 1.8 0 1 0 -3.6 0M58.22 730.51a1.8 1.8 0 1 0 3.6 0a1.8 1.8 0 1 0 -3.6 0M57.83 730.81a1.8 1.8 0 1 0 3.6 0a1.8 1.8 0 1 0 -3.6 0M57.43 731.11a1.8 1.8 0 1 0 3.6 0a1.8 1.8 0 1 0 -3.6 0M57.03 731.41a1.8 1.8 0 1 0 3.6 0a1.8 1.8 0 1 0 -3.6 0M56.64 731.72a1.8 1.8 0 1 0 3.6 0a1.8 1.8 0 1 0 -3.6 0M56.24 732.03a1.8 1.8 0 1 0 3.6 0a1.8 1.8 0 1 0 -3.6 0M55.85 732.34a1.8 1.8 0 1 0 3.6 0a1.8 1.8 0 1 0 -3.6 0M55.46 732.65a1.8 1.8 0 1 0 3.6 0a1.8 1.8 0 1 0 -3.6 0M55.07 732.97a1.8 1.8 0 1 0 3.6 0a1.8 1.8 0 1 0 -3.6 0M54.68 733.28a1.8 1.8 0 1 0 3.6 0a1.8 1.8 0 1 0 -3.6 0M54.30 733.60a1.8 1.8 0 1 0 3.6 0a1.8 1.8 0 1 0 -3.6 0M53.30 734.40a1.8 1.8 0 1 0 3.6 0a1.8 1.8 0 1 0 -3.6 0" fill="none" stroke="#ff0000" stroke-width="1.2"/>
<path d="M54.40 734.40 L55.01 734.20 L55.85 733.96 L56.84 733.66 L57.94 733.28 L59.08 732.80 L60.20 732.20 L61.28 731.48 L62.36 730.64 L63.48 729.71 L64.69 728.69 L66.01 727.58 L67.50 726.40 L69.16 725.11 L70.97 723.69 L72.89 722.19 L74.92 720.64 L77.03 719.10 L79.20 717.60 L81.47 716.12 L83.85 714.61 L86.32 713.11 L88.83 711.62 L91.33 710.18 L93.80 708.80 L96.23 707.51 L98.67 706.31 L101.10 705.14 L103.53 703.98 L105.97 702.78 L108.40 701.50 L110.83 700.13 L113.27 698.69 L115.70 697.21 L118.13 695.71 L120.57 694.24 L123.00 692.80 L125.46 691.39 L127.95 689.97 L130.44 688.57 L132.90 687.20 L135.29 685.87 L137.60 684.60 L139.89 683.35 L142.20 682.11 L144.44 680.91 L146.55 679.79 L148.43 678.78 L150.00 677.93 L151.19 677.27 L152.03 676.79 L152.66 676.43 L153.17 676.12 L153.68 675.82 L154.30 675.45 L155.02 675.03 L155.73 674.61 L156.45 674.19 L157.17 673.77 L157.88 673.35 L158.60 672.93 L159.32 672.50 L160.03 672.07 L160.75 671.65 L161.47 671.22 L162.18 670.79 L162.90 670.35 L163.62 669.92 L164.33 669.49 L165.05 669.05 L165.77 668.61 L166.48 668.17 L167.20 667.73 L167.92 667.29 L168.63 666.84 L169.35 666.40 L170.07 665.95 L170.78 665.50 L171.50 665.05 L172.22 664.60 L172.93 664.14 L173.65 663.69 L174.37 663.23 L175.08 662.77 L175.80 662.31 L176.52 661.85 L177.23 661.38 L177.95 660.92 L178.67 660.45 L179.38 659.98 L180.10 659.51 L180.82 659.03 L181.53 658.56 L182.25 658.08 L182.97 657.60 L183.68 657.12 L184.40 656.64 L185.12 656.15 L185.83 655.67 L186.55 655.18 L187.27 654.69 L187.98 654.19 L188.70 653.70 L189.42 653.20 L190.13 652.70 L190.85 652.20 L191.57 651.70 L192.28 651.20 L193.00 650.69 L193.72 650.18 L194.43 649.67 L195.15 649.16 L195.87 648.64 L196.58 648.13 L197.30 647.61 L198.02 647.09 L198.73 646.56 L199.45 646.04 L200.17 645.51 L200.88 644.98 L201.60 644.45 L202.32 643.92 L203.03 643.38 L203.75 642.85 L204.47 642.31 L205.18 641.76 L205.90 641.22 L206.62 640.67 L207.33 640.13 L208.05 639.58 L208.77 639.02 L209.48 638.47 L210.20 637.91 L210.92 637.35 L211.63 636.79 L212.35 636.23 L213.07 635.67 L213.78 635.10 L214.50 634.53 L215.22 633.96 L215.93 633.38 L216.65 632.81 L217.37 632.23 L218.08 631.65 L218.80 631.07 L219.52 630.49 L220.23 629.90 L220.95 629.31 L221.67 628.72 L222.38 628.13 L223.10 627.53 L223.82 626.94 L224.53 626.34 L225.25 625.74 L225.97 625.13 L226.68 624.53 L227.40 623.92 L228.12 623.31 L228.83 622.70 L229.55 622.09 L230.27 621.47 L230.98 620.85 L231.70 620.24 L232.42 619.61 L233.13 618.99 L233.85 618.36 L234.57 617.74 L235.28 617.11 L236.00 616.48 L236.72 615.84 L237.43 615.21 L238.15 614.57 L238.87 613.93 L239.58 613.29 L240.30 612.65 L241.02 612.00 L241.73 611.35 L242.45 610.71 L243.17 610.05 L243.88 609.40 L244.60 608.75 L245.32 608.09 L246.03 607.43 L246.75 606.77 L247.47 606.11 L248.18 605.45 L248.90 604.78 L249.62 604.12 L250.33 603.45 L251.05 602.78 L251.77 602.10 L252.48 601.43 L253.20 600.75 L253.92 600.08 L254.63 599.40 L255.35 598.72 L256.07 598.04 L256.78 597.35 L257.50 596.67 L258.22 595.98 L258.93 595.29 L259.65 594.60 L260.37 593.91 L261.08 593.22 L261.80 592.52 L262.52 591.83 L263.23 591.13 L263.95 590.43 L264.67 589.73 L265.38 589.03 L266.10 588.32 L266.82 587.62 L267.53 586.91 L268.25 586.21 L268.97 585.50 L269.68 584.79 L270.40 584.08 L271.12 583.37 L271.83 582.65 L272.55 581.94 L273.27 581.22 L273.98 580.51 L274.70 579.79 L275.42 579.07 L276.13 578.35 L276.85 577.63 L277.57 576.91 L278.28 576.19 L279.00 575.46 L279.72 574.74 L280.43 574.01 L281.15 573.29 L281.87 572.56 L282.58 571.83 L283.30 571.10 L284.02 570.37 L284.73 569.64 L285.45 568.91 L286.17 568.18 L286.88 567.45 L287.60 566.71 L288.32 565.98 L289.03 565.25 L289.75 564.51 L290.47 563.78 L291.18 563.04 L291.90 562.31 L292.62 561.57 L293.33 560.83 L294.05 560.10 L294.77 559.36 L295.48 558.62 L296.20 557.88 L296.92 557.15 L297.63 556.41 L298.35 555.67 L299.07 554.93 L299.78 554.19 L300.50 553.45 L301.22 552.71 L301.93 551.98 L302.65 551.24 L303.37 550.50 L304.08 549.76 L304.80 549.02 L305.52 548.28 L306.23 547.55 L306.95 546.81 L307.67 546.07 L308.38 545.34 L309.10 544.60 L309.82 543.86 L310.53 543.13 L311.25 542.39 L311.97 541.66 L312.68 540.92 L313.40 540.19 L314.12 539.46 L314.83 538.73 L315.55 538.00 L316.27 537.27 L316.98 536.54 L317.70 535.81 L318.47 535.03 L319.29 534.19 L320.12 533.36 L320.89 532.58 L321.53 531.93 L322.00 531.46" fill="none" stroke="#0a0a96" stroke-width="1.5" stroke-linejoin="round" />
<path d="M320.10 531.46a1.9 1.9 0 1 0 3.8 0a1.9 1.9 0 1 0 -3.8 0M314.83 536.79a1.9 1.9 0 1 0 3.8 0a1.9 1.9 0 1 0 -3.8 0M309.65 542.08a1.9 1.9 0 1 0 3.8 0a1.9 1.9 0 1 0 -3.8 0M304.56 547.31a1.9 1.9 0 1 0 3.8 0a1.9 1.9 0 1 0 -3.8 0M299.55 552.48a1.9 1.9 0 1 0 3.8 0a1.9 1.9 0 1 0 -3.8 0M294.60 557.57a1.9 1.9 0 1 0 3.8 0a1.9 1.9 0 1 0 -3.8 0M289.72 562.60a1.9 1.9 0 1 0 3.8 0a1.9 1.9 0 1 0 -3.8 0M284.90 567.54a1.9 1.9 0 1 0 3.8 0a1.9 1.9 0 1 0 -3.8 0M280.13 572.40a1.9 1.9 0 1 0 3.8 0a1.9 1.9 0 1 0 -3.8 0M275.41 577.17a1.9 1.9 0 1 0 3.8 0a1.9 1.9 0 1 0 -3.8 0M270.74 581.85a1.9 1.9 0 1 0 3.8 0a1.9 1.9 0 1 0 -3.8 0M266.11 586.44a1.9 1.9 0 1 0 3.8 0a1.9 1.9 0 1 0 -3.8 0M261.53 590.94a1.9 1.9 0 1 0 3.8 0a1.9 1.9 0 1 0 -3.8 0M256.98 595.34a1.9 1.9 0 1 0 3.8 0a1.9 1.9 0 1 0 -3.8 0M252.47 599.64a1.9 1.9 0 1 0 3.8 0a1.9 1.9 0 1 0 -3.8 0M248.00 603.85a1.9 1.9 0 1 0 3.8 0a1.9 1.9 0 1 0 -3.8 0M243.57 607.95a1.9 1.9 0 1 0 3.8 0a1.9 1.9 0 1 0 -3.8 0M239.16 611.96a1.9 1.9 0 1 0 3.8 0a1.9 1.9 0 1 0 -3.8 0M234.80 615.86a1.9 1.9 0 1 0 3.8 0a1.9 1.9 0 1 0 -3.8 0M230.46 619.66a1.9 1.9 0 1 0 3.8 0a1.9 1.9 0 1 0 -3.8 0M226.16 623.36a1.9 1.9 0 1 0 3.8 0a1.9 1.9 0 1 0 -3.8 0M221.89 626.96a1.9 1.9 0 1 0 3.8 0a1.9 1.9 0 1 0 -3.8 0M217.65 630.45a1.9 1.9 0 1 0 3.8 0a1.9 1.9 0 1 0 -3.8 0M213.45 633.85a1.9 1.9 0 1 0 3.8 0a1.9 1.9 0 1 0 -3.8 0M209.29 637.14a1.9 1.9 0 1 0 3.8 0a1.9 1.9 0 1 0 -3.8 0M205.16 640.34a1.9 1.9 0 1 0 3.8 0a1.9 1.9 0 1 0 -3.8 0M201.06 643.44a1.9 1.9 0 1 0 3.8 0a1.9 1.9 0 1 0 -3.8 0M197.01 646.44a1.9 1.9 0 1 0 3.8 0a1.9 1.9 0 1 0 -3.8 0M192.99 649.34a1.9 1.9 0 1 0 3.8 0a1.9 1.9 0 1 0 -3.8 0M189.02 652.16a1.9 1.9 0 1 0 3.8 0a1.9 1.9 0 1 0 -3.8 0M185.09 654.88a1.9 1.9 0 1 0 3.8 0a1.9 1.9 0 1 0 -3.8 0M181.20 657.51a1.9 1.9 0 1 0 3.8 0a1.9 1.9 0 1 0 -3.8 0M177.36 660.06a1.9 1.9 0 1 0 3.8 0a1.9 1.9 0 1 0 -3.8 0M173.57 662.53a1.9 1.9 0 1 0 3.8 0a1.9 1.9 0 1 0 -3.8 0M169.82 664.91a1.9 1.9 0 1 0 3.8 0a1.9 1.9 0 1 0 -3.8 0M166.13 667.22a1.9 1.9 0 1 0 3.8 0a1.9 1.9 0 1 0 -3.8 0M162.49 669.45a1.9 1.9 0 1 0 3.8 0a1.9 1.9 0 1 0 -3.8 0M158.90 671.62a1.9 1.9 0 1 0 3.8 0a1.9 1.9 0 1 0 -3.8 0M155.37 673.71a1.9 1.9 0 1 0 3.8 0a1.9 1.9 0 1 0 -3.8 0M151.90 675.74a1.9 1.9 0 1 0 3.8 0a1.9 1.9 0 1 0 -3.8 0M148.49 677.72a1.9 1.9 0 1 0 3.8 0a1.9 1.9 0 1 0 -3.8 0M145.09 679.55a1.9 1.9 0 1 0 3.8 0a1.9 1.9 0 1 0 -3.8 0M141.75 681.33a1.9 1.9 0 1 0 3.8 0a1.9 1.9 0 1 0 -3.8 0M138.49 683.08a1.9 1.9 0 1 0 3.8 0a1.9 1.9 0 1 0 -3.8 0M135.31 684.81a1.9 1.9 0 1 0 3.8 0a1.9 1.9 0 1 0 -3.8 0M132.21 686.53a1.9 1.9 0 1 0 3.8 0a1.9 1.9 0 1 0 -3.8 0M129.19 688.21a1.9 1.9 0 1 0 3.8 0a1.9 1.9 0 1 0 -3.8 0M126.24 689.87a1.9 1.9 0 1 0 3.8 0a1.9 1.9 0 1 0 -3.8 0M123.36 691.50a1.9 1.9 0 1 0 3.8 0a1.9 1.9 0 1 0 -3.8 0M120.56 693.12a1.9 1.9 0 1 0 3.8 0a1.9 1.9 0 1 0 -3.8 0M117.85 694.73a1.9 1.9 0 1 0 3.8 0a1.9 1.9 0 1 0 -3.8 0M115.22 696.34a1.9 1.9 0 1 0 3.8 0a1.9 1.9 0 1 0 -3.8 0M112.65 697.90a1.9 1.9 0 1 0 3.8 0a1.9 1.9 0 1 0 -3.8 0M110.14 699.41a1.9 1.9 0 1 0 3.8 0a1.9 1.9 0 1 0 -3.8 0M107.66 700.84a1.9 1.9 0 1 0 3.8 0a1.9 1.9 0 1 0 -3.8 0M105.22 702.18a1.9 1.9 0 1 0 3.8 0a1.9 1.9 0 1 0 -3.8 0M102.80 703.41a1.9 1.9 0 1 0 3.8 0a1.9 1.9 0 1 0 -3.8 0M100.42 704.56a1.9 1.9 0 1 0 3.8 0a1.9 1.9 0 1 0 -3.8 0M98.10 705.67a1.9 1.9 0 1 0 3.8 0a1.9 1.9 0 1 0 -3.8 0M95.86 706.76a1.9 1.9 0 1 0 3.8 0a1.9 1.9 0 1 0 -3.8 0M93.69 707.85a1.9 1.9 0 1 0 3.8 0a1.9 1.9 0 1 0 -3.8 0M91.60 708.97a1.9 1.9 0 1 0 3.8 0a1.9 1.9 0 1 0 -3.8 0M89.60 710.08a1.9 1.9 0 1 0 3.8 0a1.9 1.9 0 1 0 -3.8 0M87.67 711.19a1.9 1.9 0 1 0 3.8 0a1.9 1.9 0 1 0 -3.8 0M85.81 712.28a1.9 1.9 0 1 0 3.8 0a1.9 1.9 0 1 0 -3.8 0M84.02 713.35a1.9 1.9 0 1 0 3.8 0a1.9 1.9 0 1 0 -3.8 0M82.29 714.41a1.9 1.9 0 1 0 3.8 0a1.9 1.9 0 1 0 -3.8 0M80.63 715.45a1.9 1.9 0 1 0 3.8 0a1.9 1.9 0 1 0 -3.8 0M79.03 716.47a1.9 1.9 0 1 0 3.8 0a1.9 1.9 0 1 0 -3.8 0M77.50 717.47a1.9 1.9 0 1 0 3.8 0a1.9 1.9 0 1 0 -3.8 0M76.04 718.47a1.9 1.9 0 1 0 3.8 0a1.9 1.9 0 1 0 -3.8 0M74.65 719.45a1.9 1.9 0 1 0 3.8 0a1.9 1.9 0 1 0 -3.8 0M73.32 720.43a1.9 1.9 0 1 0 3.8 0a1.9 1.9 0 1 0 -3.8 0M72.06 721.38a1.9 1.9 0 1 0 3.8 0a1.9 1.9 0 1 0 -3.8 0M70.85 722.30a1.9 1.9 0 1 0 3.8 0a1.9 1.9 0 1 0 -3.8 0M69.69 723.20a1.9 1.9 0 1 0 3.8 0a1.9 1.9 0 1 0 -3.8 0M68.59 724.07a1.9 1.9 0 1 0 3.8 0a1.9 1.9 0 1 0 -3.8 0M67.53 724.90a1.9 1.9 0 1 0 3.8 0a1.9 1.9 0 1 0 -3.8 0M66.51 725.69a1.9 1.9 0 1 0 3.8 0a1.9 1.9 0 1 0 -3.8 0M65.54 726.45a1.9 1.9 0 1 0 3.8 0a1.9 1.9 0 1 0 -3.8 0M64.61 727.18a1.9 1.9 0 1 0 3.8 0a1.9 1.9 0 1 0 -3.8 0M63.74 727.89a1.9 1.9 0 1 0 3.8 0a1.9 1.9 0 1 0 -3.8 0M62.92 728.58a1.9 1.9 0 1 0 3.8 0a1.9 1.9 0 1 0 -3.8 0M62.14 729.23a1.9 1.9 0 1 0 3.8 0a1.9 1.9 0 1 0 -3.8 0M61.41 729.86a1.9 1.9 0 1 0 3.8 0a1.9 1.9 0 1 0 -3.8 0M60.71 730.44a1.9 1.9 0 1 0 3.8 0a1.9 1.9 0 1 0 -3.8 0M60.03 730.98a1.9 1.9 0 1 0 3.8 0a1.9 1.9 0 1 0 -3.8 0M59.38 731.47a1.9 1.9 0 1 0 3.8 0a1.9 1.9 0 1 0 -3.8 0M58.75 731.90a1.9 1.9 0 1 0 3.8 0a1.9 1.9 0 1 0 -3.8 0M58.15 732.28a1.9 1.9 0 1 0 3.8 0a1.9 1.9 0 1 0 -3.8 0M57.55 732.60a1.9 1.9 0 1 0 3.8 0a1.9 1.9 0 1 0 -3.8 0M57.00 732.88a1.9 1.9 0 1 0 3.8 0a1.9 1.9 0 1 0 -3.8 0M56.46 733.10a1.9 1.9 0 1 0 3.8 0a1.9 1.9 0 1 0 -3.8 0M55.96 733.31a1.9 1.9 0 1 0 3.8 0a1.9 1.9 0 1 0 -3.8 0M55.49 733.47a1.9 1.9 0 1 0 3.8 0a1.9 1.9 0 1 0 -3.8 0M55.02 733.64a1.9 1.9 0 1 0 3.8 0a1.9 1.9 0 1 0 -3.8 0M54.54 733.78a1.9 1.9 0 1 0 3.8 0a1.9 1.9 0 1 0 -3.8 0M54.06 733.93a1.9 1.9 0 1 0 3.8 0a1.9 1.9 0 1 0 -3.8 0M53.58 734.07a1.9 1.9 0 1 0 3.8 0a1.9 1.9 0 1 0 -3.8 0M52.50 734.40a1.9 1.9 0 1 0 3.8 0a1.9 1.9 0 1 0 -3.8 0" fill="none" stroke="#0a0a96" stroke-width="1.3"/>
</g>
<rect x="50.2" y="537.8" width="272.00" height="201.90" fill="none" stroke="#1a1a1a" stroke-width="1.3"/>
<path d="M50.00 739.70V744.20M84.03 739.70V744.20M118.05 739.70V744.20M152.07 739.70V744.20M186.10 739.70V744.20M220.12 739.70V744.20M254.15 739.70V744.20M288.17 739.70V744.20M322.20 739.70V744.20M67.01 739.70V742.70M101.04 739.70V742.70M135.06 739.70V742.70M169.09 739.70V742.70M203.11 739.70V742.70M237.14 739.70V742.70M271.16 739.70V742.70M305.19 739.70V742.70" stroke="#1a1a1a" stroke-width="1.2" fill="none"/>
<text x="50.00" y="757" font-size="13" text-anchor="middle">0</text>
<text x="84.03" y="757" font-size="13" text-anchor="middle">5</text>
<text x="118.05" y="757" font-size="13" text-anchor="middle">10</text>
<text x="152.07" y="757" font-size="13" text-anchor="middle">15</text>
<text x="186.10" y="757" font-size="13" text-anchor="middle">20</text>
<text x="220.12" y="757" font-size="13" text-anchor="middle">25</text>
<text x="254.15" y="757" font-size="13" text-anchor="middle">30</text>
<text x="288.17" y="757" font-size="13" text-anchor="middle">35</text>
<text x="322.20" y="757" font-size="13" text-anchor="middle">40</text>
<path d="M50.20 734.60H45.70M50.20 695.24H45.70M50.20 655.88H45.70M50.20 616.52H45.70M50.20 577.16H45.70M50.20 537.80H45.70M50.20 714.92H47.20M50.20 675.56H47.20M50.20 636.20H47.20M50.20 596.84H47.20M50.20 557.48H47.20" stroke="#1a1a1a" stroke-width="1.2" fill="none"/>
<text x="44" y="738.20" font-size="13" text-anchor="end">0</text>
<text x="44" y="698.84" font-size="13" text-anchor="end">10</text>
<text x="44" y="659.48" font-size="13" text-anchor="end">20</text>
<text x="44" y="620.12" font-size="13" text-anchor="end">30</text>
<text x="44" y="580.76" font-size="13" text-anchor="end">40</text>
<text x="44" y="541.40" font-size="13" text-anchor="end">50</text>
<text x="151" y="777" font-size="19">Z' (Ohm)</text>
<text transform="translate(22.8,637.4) rotate(-90)" font-size="19" text-anchor="middle">Z" (Ohm)</text>
<text x="55.8" y="559.5" font-size="25" font-weight="bold">(e)</text>
<line x1="202.2" y1="549.4" x2="227.5" y2="549.4" stroke="#ff0000" stroke-width="2.0"/>
<circle cx="214.7" cy="549.4" r="1.5" fill="#fff" stroke="#ff0000" stroke-width="1.6"/>
<text x="229" y="552.80" font-size="11" font-weight="bold">Co</text>
<line x1="202.2" y1="563.7" x2="227.5" y2="563.7" stroke="#0a800a" stroke-width="2.0"/>
<circle cx="214.7" cy="563.7" r="2.1" fill="#0a800a"/>
<text x="229" y="567.10" font-size="11" font-weight="bold">Ni</text>
<line x1="202.2" y1="578.0" x2="227.5" y2="578.0" stroke="#0a0a96" stroke-width="2.0"/>
<circle cx="214.7" cy="578.0" r="1.5" fill="#fff" stroke="#0a0a96" stroke-width="1.6"/>
<text x="229" y="581.40" font-size="11" font-weight="bold">CoNi</text>
<defs><linearGradient id="rg" x1="0" y1="0" x2="0" y2="1"><stop offset="0" stop-color="#efa06c"/><stop offset="1" stop-color="#fde6d6"/></linearGradient></defs>
<path d="M126.6 707.4H146.7M172.6 707.4H192M192 687.8V727.4M192 687.8H241.4M249.9 687.8H299.2M192 727.4H220.4M246.2 727.4H261.2M283.5 727.4H299.2M299.2 687.8V727.4M299.2 707.6H318.8M241.4 678.2V695.8M249.9 678.2V695.8" stroke="#2a2a2a" stroke-width="1.5" fill="none"/>
<rect x="146.7" y="702" width="25.9" height="11.3" fill="url(#rg)" stroke="#2a2a2a" stroke-width="1.3"/>
<rect x="220.4" y="722.3" width="25.8" height="10.6" fill="url(#rg)" stroke="#2a2a2a" stroke-width="1.3"/>
<circle cx="272.3" cy="727.4" r="11" fill="#fff" stroke="#2a2a2a" stroke-width="1.3"/>
<text x="272.3" y="732" font-size="12.5" text-anchor="middle" style="font-family:'Liberation Sans', sans-serif">W</text>
<text x="156.3" y="698.8" font-size="9.5" style="font-family:'Liberation Sans', sans-serif;font-weight:bold">R<tspan font-size="6.5" dy="1.6">S</tspan></text>
<text x="240.8" y="673.1" font-size="9.5" style="font-family:'Liberation Sans', sans-serif;font-weight:bold">C<tspan font-size="6.5" dy="1.8">dl</tspan></text>
<text x="226.3" y="717.8" font-size="9.5" style="font-family:'Liberation Sans', sans-serif;font-weight:bold">R<tspan font-size="6.5" dy="1.8">CT</tspan></text>
<text x="267.3" y="711.7" font-size="9.5" style="font-family:'Liberation Sans', sans-serif;font-weight:bold">Z<tspan font-size="6.5" dy="1.8">W</tspan></text>
<rect x="403.7" y="537.1" width="273.60" height="202.30" fill="none" stroke="#1a1a1a" stroke-width="1.3"/>
<path d="M414.30 739.40V743.90M441.99 739.40V743.90M469.68 739.40V743.90M497.37 739.40V743.90M525.06 739.40V743.90M552.74 739.40V743.90M580.43 739.40V743.90M608.12 739.40V743.90M635.81 739.40V743.90M663.50 739.40V743.90M428.14 739.40V742.40M455.83 739.40V742.40M483.52 739.40V742.40M511.21 739.40V742.40M538.90 739.40V742.40M566.59 739.40V742.40M594.28 739.40V742.40M621.97 739.40V742.40M649.66 739.40V742.40" stroke="#1a1a1a" stroke-width="1.2" fill="none"/>
<text x="414.30" y="756.3" font-size="13" text-anchor="middle">1</text>
<text x="441.99" y="756.3" font-size="13" text-anchor="middle">2</text>
<text x="469.68" y="756.3" font-size="13" text-anchor="middle">3</text>
<text x="497.37" y="756.3" font-size="13" text-anchor="middle">4</text>
<text x="525.06" y="756.3" font-size="13" text-anchor="middle">5</text>
<text x="552.74" y="756.3" font-size="13" text-anchor="middle">6</text>
<text x="580.43" y="756.3" font-size="13" text-anchor="middle">7</text>
<text x="608.12" y="756.3" font-size="13" text-anchor="middle">8</text>
<text x="635.81" y="756.3" font-size="13" text-anchor="middle">9</text>
<text x="663.50" y="756.3" font-size="13" text-anchor="middle">10</text>
<path d="M403.70 726.30H399.20M403.70 691.22H399.20M403.70 656.14H399.20M403.70 621.06H399.20M403.70 585.98H399.20M403.70 550.90H399.20M403.70 708.76H400.70M403.70 673.68H400.70M403.70 638.60H400.70M403.70 603.52H400.70M403.70 568.44H400.70" stroke="#1a1a1a" stroke-width="1.2" fill="none"/>
<text x="396" y="729.90" font-size="13" text-anchor="end">50</text>
<text x="396" y="694.82" font-size="13" text-anchor="end">60</text>
<text x="396" y="659.74" font-size="13" text-anchor="end">70</text>
<text x="396" y="624.66" font-size="13" text-anchor="end">80</text>
<text x="396" y="589.58" font-size="13" text-anchor="end">90</text>
<text x="396" y="554.50" font-size="13" text-anchor="end">100</text>
<text x="459.2" y="774.2" font-size="19">Current density (A/g)</text>
<text transform="translate(373,639.6) rotate(-90)" font-size="19" text-anchor="middle">Coulombic efficiency (%)</text>
<text x="635.2" y="577.6" font-size="25" font-weight="bold">(f)</text>
<defs><radialGradient id="hb" cx="0.35" cy="0.3" r="0.7"><stop offset="0" stop-color="#fff" stop-opacity="0.85"/><stop offset="0.35" stop-color="#fff" stop-opacity="0"/></radialGradient></defs>
<path d="M414.20 592.60 L442.20 572.20 L497.40 561.50 L552.70 557.40 L607.90 558.00 L663.30 555.00" fill="none" stroke="#ff0000" stroke-width="1.1" stroke-linejoin="round" />
<circle cx="414.2" cy="592.6" r="3.1" fill="#ff0000"/><circle cx="414.2" cy="592.6" r="3.1" fill="url(#hb)"/>
<circle cx="442.2" cy="572.2" r="3.1" fill="#ff0000"/><circle cx="442.2" cy="572.2" r="3.1" fill="url(#hb)"/>
<circle cx="497.4" cy="561.5" r="3.1" fill="#ff0000"/><circle cx="497.4" cy="561.5" r="3.1" fill="url(#hb)"/>
<circle cx="552.7" cy="557.4" r="3.1" fill="#ff0000"/><circle cx="552.7" cy="557.4" r="3.1" fill="url(#hb)"/>
<circle cx="607.9" cy="558.0" r="3.1" fill="#ff0000"/><circle cx="607.9" cy="558.0" r="3.1" fill="url(#hb)"/>
<circle cx="663.3" cy="555.0" r="3.1" fill="#ff0000"/><circle cx="663.3" cy="555.0" r="3.1" fill="url(#hb)"/>
<path d="M414.20 569.70 L442.20 561.10 L497.40 555.80 L552.70 554.40 L607.90 555.00 L663.30 553.30" fill="none" stroke="#000000" stroke-width="1.1" stroke-linejoin="round" />
<circle cx="414.2" cy="569.7" r="3.1" fill="#000000"/><circle cx="414.2" cy="569.7" r="3.1" fill="url(#hb)"/>
<circle cx="442.2" cy="561.1" r="3.1" fill="#000000"/><circle cx="442.2" cy="561.1" r="3.1" fill="url(#hb)"/>
<circle cx="497.4" cy="555.8" r="3.1" fill="#000000"/><circle cx="497.4" cy="555.8" r="3.1" fill="url(#hb)"/>
<circle cx="552.7" cy="554.4" r="3.1" fill="#000000"/><circle cx="552.7" cy="554.4" r="3.1" fill="url(#hb)"/>
<circle cx="607.9" cy="555.0" r="3.1" fill="#000000"/><circle cx="607.9" cy="555.0" r="3.1" fill="url(#hb)"/>
<circle cx="663.3" cy="553.3" r="3.1" fill="#000000"/><circle cx="663.3" cy="553.3" r="3.1" fill="url(#hb)"/>
<path d="M414.20 552.90 L442.20 561.10 L497.40 550.90 L552.70 553.30 L607.90 552.90 L663.30 552.30" fill="none" stroke="#0000ff" stroke-width="1.1" stroke-linejoin="round" />
<circle cx="414.2" cy="552.9" r="3.1" fill="#0000ff"/><circle cx="414.2" cy="552.9" r="3.1" fill="url(#hb)"/>
<circle cx="442.2" cy="561.1" r="3.1" fill="#0000ff"/><circle cx="442.2" cy="561.1" r="3.1" fill="url(#hb)"/>
<circle cx="497.4" cy="550.9" r="3.1" fill="#0000ff"/><circle cx="497.4" cy="550.9" r="3.1" fill="url(#hb)"/>
<circle cx="552.7" cy="553.3" r="3.1" fill="#0000ff"/><circle cx="552.7" cy="553.3" r="3.1" fill="url(#hb)"/>
<circle cx="607.9" cy="552.9" r="3.1" fill="#0000ff"/><circle cx="607.9" cy="552.9" r="3.1" fill="url(#hb)"/>
<circle cx="663.3" cy="552.3" r="3.1" fill="#0000ff"/><circle cx="663.3" cy="552.3" r="3.1" fill="url(#hb)"/>
<line x1="621.2" y1="699.8" x2="645.8" y2="699.8" stroke="#000000" stroke-width="1.3"/>
<circle cx="633.7" cy="699.8" r="3.1" fill="#000000"/><circle cx="633.7" cy="699.8" r="3.1" fill="url(#hb)"/>
<text x="647.6" y="702.20" font-size="11" font-weight="bold">Co</text>
<line x1="621.2" y1="714.1" x2="645.8" y2="714.1" stroke="#ff0000" stroke-width="1.3"/>
<circle cx="633.7" cy="714.1" r="3.1" fill="#ff0000"/><circle cx="633.7" cy="714.1" r="3.1" fill="url(#hb)"/>
<text x="647.6" y="716.50" font-size="11" font-weight="bold">Ni</text>
<line x1="621.2" y1="728.4" x2="645.8" y2="728.4" stroke="#0000ff" stroke-width="1.3"/>
<circle cx="633.7" cy="728.4" r="3.1" fill="#0000ff"/><circle cx="633.7" cy="728.4" r="3.1" fill="url(#hb)"/>
<text x="647.6" y="730.80" font-size="11" font-weight="bold">CoNi</text>
</svg></body></html>
